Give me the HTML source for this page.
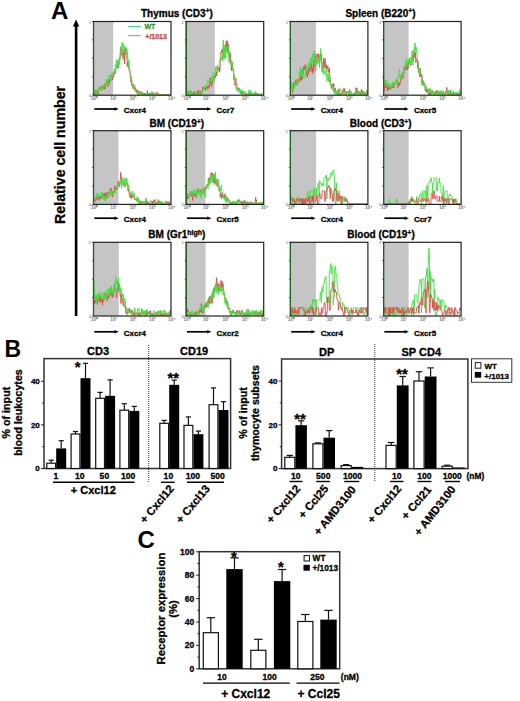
<!DOCTYPE html>
<html><head><meta charset="utf-8"><style>
html,body{margin:0;padding:0;background:#fff;width:520px;height:701px;overflow:hidden}
svg{display:block}
text{font-family:"Liberation Sans",sans-serif;font-weight:bold;stroke:currentColor;stroke-width:0.3px;stroke-linejoin:round}
</style></head><body>
<svg width="520" height="701" viewBox="0 0 520 701">
<text x="51" y="18.6" font-size="24" text-anchor="start" fill="#000" color="#000" style="stroke-width:0">A</text>
<rect x="74.8" y="25" width="2.6" height="291" fill="#000"/>
<path d="M76.1 19.5 L79.3 26.5 L72.9 26.5 Z" fill="#000"/>
<text transform="translate(64.9 154.9) rotate(-90)" font-size="14.2" text-anchor="middle">Relative cell number</text>
<text x="141" y="16.9" font-size="10">Thymus (CD3<tspan font-size="7" dy="-3.6">+</tspan><tspan dy="3.6">)</tspan></text>
<text x="345.4" y="16.9" font-size="10">Spleen (B220<tspan font-size="7" dy="-3.6">+</tspan><tspan dy="3.6">)</tspan></text>
<text x="149.5" y="127.3" font-size="10">BM (CD19<tspan font-size="7" dy="-3.6">+</tspan><tspan dy="3.6">)</tspan></text>
<text x="349.8" y="127.3" font-size="10">Blood (CD3<tspan font-size="7" dy="-3.6">+</tspan><tspan dy="3.6">)</tspan></text>
<text x="148.3" y="238.4" font-size="10">BM (Gr1<tspan font-size="7" dy="-3.6">high</tspan><tspan dy="3.6">)</tspan></text>
<text x="347.3" y="238.4" font-size="10">Blood (CD19<tspan font-size="7" dy="-3.6">+</tspan><tspan dy="3.6">)</tspan></text>
<rect x="93.5" y="21.5" width="19.7" height="73.7" fill="#c5c5c5"/>
<polyline points="94.00,92.1 94.30,93.8 94.60,91.5 94.90,94.6 95.20,94.7 95.50,90.4 95.80,89.8 96.10,89.6 96.40,92.5 96.70,94.7 97.00,94.0 97.30,91.9 97.60,91.3 97.90,91.7 98.20,94.3 98.50,91.1 98.80,89.7 99.10,88.9 99.40,89.4 99.70,89.1 100.00,87.5 100.30,87.7 100.60,87.3 100.90,88.6 101.20,86.5 101.50,87.2 101.80,90.5 102.10,85.6 102.40,88.1 102.70,86.0 103.00,88.1 103.30,88.8 103.60,87.6 103.90,87.7 104.20,87.6 104.50,89.2 104.80,83.4 105.10,88.9 105.40,85.7 105.70,84.1 106.00,84.7 106.30,84.4 106.60,83.4 106.90,81.6 107.20,84.5 107.50,79.2 107.80,87.0 108.10,84.3 108.40,85.2 108.70,85.0 109.00,83.7 109.30,79.4 109.60,83.5 109.90,81.9 110.20,77.7 110.50,77.9 110.80,76.4 111.10,76.7 111.40,77.9 111.70,78.3 112.00,77.4 112.30,78.6 112.60,80.1 112.90,75.8 113.20,76.4 113.50,77.3 113.80,77.0 114.10,71.7 114.40,72.5 114.70,71.4 115.00,74.2 115.30,72.5 115.60,70.1 115.90,68.7 116.20,67.7 116.50,68.1 116.80,65.2 117.10,64.1 117.40,68.4 117.70,66.3 118.00,67.5 118.30,66.0 118.60,67.8 118.90,63.3 119.20,60.1 119.50,59.9 119.80,59.7 120.10,55.6 120.40,50.9 120.70,51.1 121.00,47.5 121.30,50.3 121.60,55.1 121.90,47.5 122.20,53.5 122.50,54.7 122.80,52.8 123.10,59.2 123.40,57.2 123.70,55.1 124.00,49.8 124.30,53.0 124.60,64.1 124.90,53.7 125.20,51.9 125.50,48.5 125.80,51.9 126.10,47.7 126.40,52.2 126.70,53.5 127.00,57.7 127.30,66.6 127.60,62.0 127.90,63.6 128.20,67.4 128.50,65.1 128.80,67.9 129.10,70.7 129.40,70.8 129.70,71.9 130.00,72.2 130.30,76.7 130.60,75.8 130.90,81.5 131.20,80.4 131.50,85.3 131.80,84.7 132.10,84.4 132.40,86.1 132.70,87.3 133.00,87.1 133.30,84.6 133.60,88.3 133.90,84.8 134.20,89.0 134.50,88.5 134.80,88.0 135.10,90.6 135.40,88.5 135.70,88.3 136.00,91.9 136.30,89.7 136.60,90.2 136.90,92.9 137.20,91.1 137.50,92.4 137.80,90.0 138.10,94.7 138.40,91.6 138.70,94.7 139.00,91.5 139.30,93.5 139.60,94.1 139.90,93.6 140.20,92.4 140.50,92.5 140.80,91.3 141.10,94.2 141.40,94.7 141.70,94.7 142.00,94.3 142.30,92.2 142.60,92.3 142.90,93.0 143.20,93.7 143.50,94.4 143.80,94.5 144.10,93.4 144.40,94.7 144.70,93.1 145.00,94.7 145.30,94.7 145.60,94.7 145.90,93.8 146.20,94.5 146.50,94.6 146.80,94.3 147.10,94.7 147.40,90.4 147.70,94.2 148.00,94.7 148.30,94.7 148.60,94.7 148.90,94.7 149.20,94.3 149.50,92.9 149.80,94.7 150.10,93.7 150.40,94.7 150.70,93.8 151.00,93.5 151.30,93.9 151.60,94.3 151.90,94.7 152.20,92.6 152.50,93.5 152.80,92.7 153.10,92.2 153.40,94.3 153.70,94.7 154.00,94.1 154.30,94.7 154.60,94.7 154.90,94.7 155.20,94.7 155.50,94.7 155.80,94.7 156.10,93.9 156.40,91.9 156.70,92.2 157.00,94.7 157.30,94.5 157.60,93.5 157.90,92.8 158.20,93.9 158.50,94.7 158.80,94.7 159.10,94.7 159.40,94.7 159.70,94.7 160.00,94.7 160.30,93.9 160.60,94.7 160.90,94.7 161.20,94.7 161.50,94.7 161.80,94.7 162.10,94.7 162.40,94.7 162.70,94.7 163.00,94.7 163.30,94.7 163.60,94.7 163.90,94.7 164.20,94.7 164.50,94.7 164.80,94.7 165.10,94.7 165.40,94.7 165.70,94.7 166.00,94.7 166.30,94.7 166.60,94.7 166.90,94.7 167.20,94.7 167.50,94.7 167.80,94.7 168.10,94.7 168.40,94.7 168.70,94.7 169.00,94.7 169.30,94.7 169.60,94.7 169.90,94.7 170.20,94.7 170.50,94.7" fill="none" stroke="#e24a4a" stroke-width="0.9"/>
<polyline points="94.00,93.0 94.30,91.8 94.60,91.4 94.90,93.2 95.20,93.7 95.50,93.1 95.80,91.6 96.10,93.0 96.40,91.4 96.70,94.7 97.00,89.9 97.30,91.6 97.60,90.4 97.90,91.1 98.20,90.5 98.50,88.2 98.80,87.4 99.10,88.9 99.40,88.4 99.70,87.3 100.00,90.0 100.30,90.1 100.60,87.1 100.90,88.8 101.20,90.6 101.50,88.9 101.80,87.5 102.10,88.5 102.40,89.3 102.70,87.4 103.00,84.9 103.30,87.0 103.60,88.2 103.90,86.2 104.20,85.2 104.50,86.8 104.80,84.9 105.10,84.2 105.40,84.2 105.70,84.9 106.00,82.2 106.30,82.0 106.60,79.9 106.90,84.4 107.20,83.7 107.50,85.4 107.80,86.1 108.10,81.4 108.40,80.4 108.70,82.6 109.00,75.3 109.30,75.8 109.60,76.6 109.90,76.6 110.20,76.0 110.50,79.6 110.80,75.0 111.10,76.8 111.40,81.0 111.70,73.8 112.00,73.9 112.30,72.9 112.60,75.9 112.90,75.2 113.20,73.0 113.50,75.7 113.80,72.3 114.10,73.8 114.40,69.5 114.70,71.0 115.00,65.6 115.30,66.0 115.60,66.0 115.90,64.0 116.20,62.4 116.50,59.7 116.80,67.9 117.10,60.3 117.40,61.4 117.70,63.7 118.00,66.4 118.30,60.8 118.60,67.6 118.90,60.8 119.20,57.7 119.50,64.2 119.80,58.2 120.10,59.6 120.40,53.2 120.70,49.1 121.00,46.3 121.30,56.7 121.60,50.9 121.90,44.6 122.20,42.1 122.50,45.1 122.80,47.6 123.10,43.5 123.40,44.5 123.70,47.4 124.00,51.2 124.30,48.0 124.60,46.1 124.90,49.3 125.20,50.0 125.50,54.9 125.80,52.6 126.10,47.6 126.40,52.6 126.70,58.2 127.00,50.0 127.30,55.2 127.60,53.1 127.90,59.5 128.20,63.1 128.50,66.7 128.80,61.2 129.10,60.4 129.40,70.8 129.70,71.2 130.00,70.6 130.30,74.9 130.60,76.4 130.90,78.5 131.20,78.4 131.50,76.5 131.80,81.5 132.10,81.0 132.40,85.5 132.70,84.1 133.00,89.0 133.30,88.1 133.60,84.8 133.90,86.5 134.20,85.2 134.50,85.5 134.80,85.4 135.10,86.4 135.40,86.9 135.70,90.3 136.00,91.9 136.30,92.6 136.60,92.4 136.90,93.4 137.20,93.3 137.50,92.4 137.80,91.6 138.10,92.3 138.40,94.5 138.70,92.7 139.00,92.8 139.30,91.5 139.60,92.4 139.90,94.3 140.20,94.7 140.50,92.0 140.80,94.1 141.10,92.5 141.40,92.4 141.70,94.7 142.00,94.7 142.30,94.7 142.60,94.7 142.90,94.6 143.20,94.4 143.50,94.5 143.80,94.7 144.10,94.2 144.40,94.7 144.70,93.5 145.00,94.7 145.30,93.9 145.60,92.9 145.90,94.5 146.20,94.4 146.50,94.7 146.80,94.7 147.10,94.6 147.40,94.7 147.70,94.7 148.00,94.7 148.30,94.2 148.60,94.7 148.90,92.9 149.20,94.7 149.50,94.7 149.80,94.1 150.10,94.7 150.40,93.6 150.70,94.7 151.00,94.7 151.30,94.6 151.60,91.7 151.90,93.9 152.20,94.7 152.50,94.6 152.80,94.7 153.10,91.9 153.40,94.7 153.70,93.8 154.00,93.9 154.30,94.7 154.60,93.1 154.90,93.2 155.20,93.9 155.50,94.0 155.80,93.6 156.10,93.4 156.40,93.0 156.70,94.1 157.00,92.9 157.30,94.7 157.60,93.4 157.90,94.5 158.20,94.7 158.50,94.7 158.80,94.7 159.10,94.7 159.40,94.7 159.70,94.7 160.00,94.7 160.30,94.7 160.60,94.7 160.90,94.7 161.20,94.7 161.50,94.7 161.80,94.7 162.10,94.7 162.40,94.7 162.70,94.7 163.00,94.7 163.30,94.7 163.60,94.7 163.90,94.7 164.20,94.7 164.50,94.7 164.80,94.7 165.10,94.7 165.40,94.7 165.70,94.7 166.00,94.7 166.30,94.7 166.60,94.7 166.90,94.7 167.20,94.7 167.50,94.7 167.80,94.7 168.10,94.7 168.40,94.7 168.70,94.7 169.00,94.7 169.30,94.7 169.60,94.7 169.90,94.7 170.20,94.7 170.50,94.7" fill="none" stroke="#3fe23f" stroke-width="0.9"/>
<rect x="93.5" y="21.5" width="77.5" height="73.7" fill="none" stroke="#222" stroke-width="1.2"/>
<line x1="93.5" y1="22.5" x2="93.5" y2="95.2" stroke="#1a6a1a" stroke-width="1.1"/>
<line x1="92.0" y1="21.5" x2="93.5" y2="21.5" stroke="#333" stroke-width="0.8"/>
<line x1="92.0" y1="39.9" x2="93.5" y2="39.9" stroke="#333" stroke-width="0.8"/>
<line x1="92.0" y1="58.4" x2="93.5" y2="58.4" stroke="#333" stroke-width="0.8"/>
<line x1="92.0" y1="76.8" x2="93.5" y2="76.8" stroke="#333" stroke-width="0.8"/>
<line x1="92.0" y1="95.2" x2="93.5" y2="95.2" stroke="#333" stroke-width="0.8"/>
<text x="91.0" y="23.5" font-size="3.5" text-anchor="end" fill="#888" color="#888" style="stroke-width:0">&#8364;</text>
<text x="91.0" y="96.7" font-size="3.5" text-anchor="end" fill="#888" color="#888" style="stroke-width:0">0</text>
<text x="94.3" y="100.10000000000001" font-size="4.6" text-anchor="middle" fill="#8a8a8a" color="#8a8a8a" style="stroke-width:0.1">10&#8304;</text>
<text x="113.675" y="100.10000000000001" font-size="4.6" text-anchor="middle" fill="#8a8a8a" color="#8a8a8a" style="stroke-width:0.1">10&#185;</text>
<text x="133.05" y="100.10000000000001" font-size="4.6" text-anchor="middle" fill="#8a8a8a" color="#8a8a8a" style="stroke-width:0.1">10&#178;</text>
<text x="152.425" y="100.10000000000001" font-size="4.6" text-anchor="middle" fill="#8a8a8a" color="#8a8a8a" style="stroke-width:0.1">10&#179;</text>
<text x="171.8" y="100.10000000000001" font-size="4.6" text-anchor="middle" fill="#8a8a8a" color="#8a8a8a" style="stroke-width:0.1">10&#8308;</text>
<line x1="94.3" y1="109.0" x2="115.5" y2="109.0" stroke="#000" stroke-width="1.7"/>
<path d="M118.7 109.0 L114.5 107.2 L114.5 110.8 Z" fill="#000"/>
<text x="123.8" y="112.7" font-size="8" text-anchor="start" fill="#000" color="#000" >Cxcr4</text>
<rect x="186.2" y="21.5" width="28.6" height="73.7" fill="#c5c5c5"/>
<polyline points="186.70,91.3 187.00,93.1 187.30,91.9 187.60,92.1 187.90,91.8 188.20,91.6 188.50,92.7 188.80,93.3 189.10,90.8 189.40,92.7 189.70,94.7 190.00,94.7 190.30,94.6 190.60,93.8 190.90,93.4 191.20,90.8 191.50,94.1 191.80,93.6 192.10,94.7 192.40,94.7 192.70,94.7 193.00,94.7 193.30,93.2 193.60,94.2 193.90,91.6 194.20,93.6 194.50,92.5 194.80,92.3 195.10,94.7 195.40,94.7 195.70,92.5 196.00,94.2 196.30,94.7 196.60,94.7 196.90,94.7 197.20,94.7 197.50,91.5 197.80,94.2 198.10,90.3 198.40,93.8 198.70,94.7 199.00,92.5 199.30,92.3 199.60,92.3 199.90,91.2 200.20,91.9 200.50,91.4 200.80,94.7 201.10,93.1 201.40,91.1 201.70,91.1 202.00,90.3 202.30,91.9 202.60,89.2 202.90,86.7 203.20,88.8 203.50,88.1 203.80,87.9 204.10,87.5 204.40,88.3 204.70,89.1 205.00,88.2 205.30,88.1 205.60,90.6 205.90,88.5 206.20,88.0 206.50,87.0 206.80,88.1 207.10,87.4 207.40,86.8 207.70,89.3 208.00,86.2 208.30,85.2 208.60,86.3 208.90,88.3 209.20,86.8 209.50,83.6 209.80,85.0 210.10,77.7 210.40,83.3 210.70,83.1 211.00,81.1 211.30,83.5 211.60,87.1 211.90,81.5 212.20,84.0 212.50,82.9 212.80,82.4 213.10,79.8 213.40,77.7 213.70,77.0 214.00,80.0 214.30,78.0 214.60,76.9 214.90,76.1 215.20,75.7 215.50,77.6 215.80,72.6 216.10,74.5 216.40,72.0 216.70,76.0 217.00,71.7 217.30,72.8 217.60,71.6 217.90,70.7 218.20,70.4 218.50,70.2 218.80,67.9 219.10,70.9 219.40,67.1 219.70,71.9 220.00,68.9 220.30,61.5 220.60,58.1 220.90,52.2 221.20,52.8 221.50,50.3 221.80,52.9 222.10,52.2 222.40,48.8 222.70,52.1 223.00,54.0 223.30,56.6 223.60,57.5 223.90,57.2 224.20,55.7 224.50,48.3 224.80,52.3 225.10,50.4 225.40,44.8 225.70,49.0 226.00,42.9 226.30,40.8 226.60,48.6 226.90,49.1 227.20,52.7 227.50,40.7 227.80,47.3 228.10,52.5 228.40,44.2 228.70,53.6 229.00,52.6 229.30,54.4 229.60,56.8 229.90,62.2 230.20,52.6 230.50,63.5 230.80,63.2 231.10,65.5 231.40,70.6 231.70,66.6 232.00,64.2 232.30,63.8 232.60,69.2 232.90,68.4 233.20,70.8 233.50,69.6 233.80,79.4 234.10,74.9 234.40,79.5 234.70,80.3 235.00,85.5 235.30,82.5 235.60,80.7 235.90,78.4 236.20,83.9 236.50,84.8 236.80,83.9 237.10,86.7 237.40,88.7 237.70,88.8 238.00,89.7 238.30,89.3 238.60,89.1 238.90,87.8 239.20,88.0 239.50,89.4 239.80,90.7 240.10,90.4 240.40,93.4 240.70,89.8 241.00,92.1 241.30,91.3 241.60,94.7 241.90,92.0 242.20,92.1 242.50,92.9 242.80,93.6 243.10,94.1 243.40,91.0 243.70,91.6 244.00,93.0 244.30,93.4 244.60,94.7 244.90,94.7 245.20,94.7 245.50,94.4 245.80,94.2 246.10,94.7 246.40,93.6 246.70,93.6 247.00,94.2 247.30,94.7 247.60,94.7 247.90,94.1 248.20,94.7 248.50,94.7 248.80,91.9 249.10,93.9 249.40,94.7 249.70,92.1 250.00,93.4 250.30,94.4 250.60,94.7 250.90,94.2 251.20,93.4 251.50,94.7 251.80,94.7 252.10,94.7 252.40,94.7 252.70,94.7 253.00,94.7 253.30,94.7 253.60,94.7 253.90,94.7 254.20,94.7 254.50,94.3 254.80,94.4 255.10,93.3 255.40,94.0 255.70,91.7 256.00,94.7 256.30,93.6 256.60,94.7 256.90,94.7 257.20,94.7 257.50,94.7 257.80,93.3 258.10,93.6 258.40,94.7 258.70,94.7 259.00,94.7 259.30,94.7 259.60,94.7 259.90,94.7 260.20,94.7 260.50,94.7 260.80,94.7 261.10,94.7 261.40,94.7 261.70,94.7 262.00,94.7 262.30,94.7 262.60,94.7 262.90,94.7 263.20,94.7" fill="none" stroke="#e24a4a" stroke-width="0.9"/>
<polyline points="186.70,93.5 187.00,94.7 187.30,94.7 187.60,92.7 187.90,94.7 188.20,94.3 188.50,93.2 188.80,94.2 189.10,90.1 189.40,94.7 189.70,94.7 190.00,93.6 190.30,91.9 190.60,93.4 190.90,94.0 191.20,90.8 191.50,94.0 191.80,93.7 192.10,92.1 192.40,94.7 192.70,94.7 193.00,94.0 193.30,94.7 193.60,94.7 193.90,94.7 194.20,94.7 194.50,94.7 194.80,94.7 195.10,92.3 195.40,93.9 195.70,93.1 196.00,94.7 196.30,92.8 196.60,92.8 196.90,94.7 197.20,93.8 197.50,94.7 197.80,94.4 198.10,94.7 198.40,92.9 198.70,93.2 199.00,93.2 199.30,94.7 199.60,94.7 199.90,92.4 200.20,94.7 200.50,93.9 200.80,93.8 201.10,94.5 201.40,90.6 201.70,94.7 202.00,91.2 202.30,90.6 202.60,92.8 202.90,89.6 203.20,89.7 203.50,89.4 203.80,90.4 204.10,88.5 204.40,88.0 204.70,89.0 205.00,86.2 205.30,87.2 205.60,86.7 205.90,85.5 206.20,87.3 206.50,85.6 206.80,83.5 207.10,83.6 207.40,79.5 207.70,79.8 208.00,80.5 208.30,81.1 208.60,82.4 208.90,81.4 209.20,80.4 209.50,79.0 209.80,80.9 210.10,80.4 210.40,79.2 210.70,79.5 211.00,79.0 211.30,82.6 211.60,76.7 211.90,78.2 212.20,77.9 212.50,76.2 212.80,82.2 213.10,72.2 213.40,78.8 213.70,78.1 214.00,81.9 214.30,74.6 214.60,74.1 214.90,75.2 215.20,72.4 215.50,66.7 215.80,70.8 216.10,72.5 216.40,67.0 216.70,69.8 217.00,69.3 217.30,65.2 217.60,70.8 217.90,70.3 218.20,68.6 218.50,68.6 218.80,66.5 219.10,65.3 219.40,64.4 219.70,63.4 220.00,59.9 220.30,57.4 220.60,57.3 220.90,57.1 221.20,59.4 221.50,57.7 221.80,59.4 222.10,57.4 222.40,52.7 222.70,60.9 223.00,50.2 223.30,40.0 223.60,56.7 223.90,44.5 224.20,59.3 224.50,53.3 224.80,47.7 225.10,48.4 225.40,55.7 225.70,58.1 226.00,58.0 226.30,45.9 226.60,48.8 226.90,49.5 227.20,47.2 227.50,47.4 227.80,46.6 228.10,47.1 228.40,56.5 228.70,46.2 229.00,61.9 229.30,52.2 229.60,60.3 229.90,60.0 230.20,63.4 230.50,62.5 230.80,63.2 231.10,63.4 231.40,65.2 231.70,60.3 232.00,65.3 232.30,62.0 232.60,68.3 232.90,70.7 233.20,70.2 233.50,71.1 233.80,78.2 234.10,76.8 234.40,75.0 234.70,80.8 235.00,81.5 235.30,81.1 235.60,85.3 235.90,88.6 236.20,89.9 236.50,87.2 236.80,87.5 237.10,88.7 237.40,89.3 237.70,91.9 238.00,88.2 238.30,87.7 238.60,90.7 238.90,88.6 239.20,91.0 239.50,89.7 239.80,90.0 240.10,93.5 240.40,89.5 240.70,92.7 241.00,91.8 241.30,92.3 241.60,91.6 241.90,91.4 242.20,91.6 242.50,90.2 242.80,92.2 243.10,92.9 243.40,94.7 243.70,93.1 244.00,93.6 244.30,94.7 244.60,94.4 244.90,92.5 245.20,92.0 245.50,91.3 245.80,92.9 246.10,94.7 246.40,94.2 246.70,94.7 247.00,93.4 247.30,94.0 247.60,94.7 247.90,94.3 248.20,93.8 248.50,94.7 248.80,92.0 249.10,89.7 249.40,92.8 249.70,92.4 250.00,93.3 250.30,94.3 250.60,90.3 250.90,93.4 251.20,92.9 251.50,93.5 251.80,92.3 252.10,93.4 252.40,92.8 252.70,94.7 253.00,94.7 253.30,93.5 253.60,94.7 253.90,94.7 254.20,93.6 254.50,94.5 254.80,92.7 255.10,94.7 255.40,93.0 255.70,94.7 256.00,94.7 256.30,92.8 256.60,94.7 256.90,94.7 257.20,94.7 257.50,93.4 257.80,94.7 258.10,94.7 258.40,94.7 258.70,94.7 259.00,94.7 259.30,94.7 259.60,94.7 259.90,94.7 260.20,94.7 260.50,94.7 260.80,94.7 261.10,93.9 261.40,93.0 261.70,94.7 262.00,94.7 262.30,94.7 262.60,94.7 262.90,94.7 263.20,94.7" fill="none" stroke="#3fe23f" stroke-width="0.9"/>
<rect x="186.2" y="21.5" width="77.5" height="73.7" fill="none" stroke="#222" stroke-width="1.2"/>
<line x1="186.2" y1="22.5" x2="186.2" y2="95.2" stroke="#1a6a1a" stroke-width="1.1"/>
<line x1="184.7" y1="21.5" x2="186.2" y2="21.5" stroke="#333" stroke-width="0.8"/>
<line x1="184.7" y1="39.9" x2="186.2" y2="39.9" stroke="#333" stroke-width="0.8"/>
<line x1="184.7" y1="58.4" x2="186.2" y2="58.4" stroke="#333" stroke-width="0.8"/>
<line x1="184.7" y1="76.8" x2="186.2" y2="76.8" stroke="#333" stroke-width="0.8"/>
<line x1="184.7" y1="95.2" x2="186.2" y2="95.2" stroke="#333" stroke-width="0.8"/>
<text x="183.7" y="23.5" font-size="3.5" text-anchor="end" fill="#888" color="#888" style="stroke-width:0">&#8364;</text>
<text x="183.7" y="96.7" font-size="3.5" text-anchor="end" fill="#888" color="#888" style="stroke-width:0">0</text>
<text x="187.0" y="100.10000000000001" font-size="4.6" text-anchor="middle" fill="#8a8a8a" color="#8a8a8a" style="stroke-width:0.1">10&#8304;</text>
<text x="206.375" y="100.10000000000001" font-size="4.6" text-anchor="middle" fill="#8a8a8a" color="#8a8a8a" style="stroke-width:0.1">10&#185;</text>
<text x="225.75" y="100.10000000000001" font-size="4.6" text-anchor="middle" fill="#8a8a8a" color="#8a8a8a" style="stroke-width:0.1">10&#178;</text>
<text x="245.125" y="100.10000000000001" font-size="4.6" text-anchor="middle" fill="#8a8a8a" color="#8a8a8a" style="stroke-width:0.1">10&#179;</text>
<text x="264.5" y="100.10000000000001" font-size="4.6" text-anchor="middle" fill="#8a8a8a" color="#8a8a8a" style="stroke-width:0.1">10&#8308;</text>
<line x1="187.0" y1="109.0" x2="208.2" y2="109.0" stroke="#000" stroke-width="1.7"/>
<path d="M211.39999999999998 109.0 L207.2 107.2 L207.2 110.8 Z" fill="#000"/>
<text x="216.5" y="112.7" font-size="8" text-anchor="start" fill="#000" color="#000" >Ccr7</text>
<rect x="290.4" y="21.5" width="25.5" height="73.7" fill="#c5c5c5"/>
<polyline points="290.90,81.3 291.20,88.5 291.50,88.4 291.80,89.1 292.10,86.9 292.40,90.8 292.70,92.6 293.00,89.4 293.30,86.3 293.60,82.2 293.90,86.8 294.20,87.5 294.50,84.8 294.80,84.1 295.10,83.8 295.40,81.4 295.70,80.3 296.00,82.5 296.30,79.3 296.60,80.8 296.90,83.0 297.20,85.3 297.50,81.8 297.80,81.3 298.10,79.9 298.40,82.6 298.70,79.4 299.00,81.1 299.30,78.1 299.60,78.3 299.90,75.7 300.20,80.1 300.50,81.4 300.80,77.8 301.10,74.1 301.40,78.3 301.70,68.8 302.00,80.0 302.30,71.3 302.60,71.5 302.90,70.6 303.20,74.4 303.50,66.6 303.80,67.4 304.10,67.4 304.40,69.9 304.70,69.3 305.00,64.7 305.30,69.0 305.60,70.7 305.90,71.8 306.20,67.3 306.50,75.0 306.80,71.3 307.10,72.8 307.40,77.3 307.70,71.1 308.00,69.1 308.30,71.7 308.60,74.4 308.90,71.1 309.20,66.1 309.50,71.9 309.80,70.1 310.10,66.7 310.40,68.9 310.70,69.4 311.00,63.8 311.30,63.2 311.60,67.6 311.90,72.1 312.20,70.5 312.50,68.0 312.80,73.3 313.10,66.5 313.40,59.7 313.70,71.2 314.00,62.2 314.30,62.3 314.60,66.7 314.90,63.7 315.20,62.9 315.50,62.0 315.80,53.6 316.10,61.5 316.40,62.9 316.70,61.7 317.00,60.5 317.30,54.9 317.60,53.9 317.90,54.9 318.20,57.8 318.50,53.8 318.80,57.1 319.10,56.0 319.40,59.8 319.70,58.2 320.00,59.8 320.30,56.4 320.60,55.4 320.90,60.5 321.20,59.5 321.50,54.2 321.80,64.9 322.10,71.4 322.40,71.0 322.70,65.3 323.00,62.3 323.30,65.0 323.60,57.8 323.90,61.1 324.20,68.4 324.50,61.1 324.80,66.1 325.10,58.2 325.40,68.0 325.70,68.3 326.00,68.4 326.30,66.0 326.60,64.8 326.90,68.7 327.20,66.2 327.50,68.1 327.80,66.1 328.10,71.6 328.40,69.8 328.70,70.3 329.00,72.8 329.30,67.8 329.60,72.9 329.90,76.3 330.20,79.0 330.50,80.9 330.80,83.8 331.10,85.2 331.40,88.5 331.70,86.5 332.00,88.0 332.30,83.9 332.60,86.5 332.90,84.6 333.20,83.4 333.50,86.5 333.80,83.9 334.10,87.9 334.40,89.0 334.70,91.9 335.00,90.4 335.30,88.3 335.60,91.1 335.90,93.4 336.20,93.6 336.50,94.2 336.80,94.2 337.10,94.7 337.40,90.5 337.70,90.7 338.00,92.0 338.30,94.3 338.60,92.2 338.90,88.6 339.20,94.5 339.50,93.6 339.80,94.0 340.10,93.2 340.40,94.7 340.70,93.8 341.00,94.7 341.30,94.7 341.60,94.7 341.90,93.0 342.20,93.0 342.50,93.4 342.80,90.2 343.10,92.1 343.40,88.6 343.70,91.7 344.00,91.8 344.30,92.5 344.60,88.5 344.90,91.2 345.20,92.3 345.50,92.1 345.80,93.9 346.10,92.5 346.40,94.4 346.70,93.6 347.00,92.3 347.30,91.1 347.60,92.3 347.90,91.9 348.20,92.0 348.50,94.7 348.80,93.3 349.10,92.4 349.40,91.7 349.70,89.4 350.00,91.4 350.30,94.7 350.60,92.7 350.90,93.5 351.20,93.5 351.50,94.1 351.80,94.7 352.10,94.7 352.40,94.7 352.70,94.7 353.00,94.7 353.30,94.7 353.60,94.2 353.90,94.7 354.20,94.7 354.50,94.7 354.80,94.7 355.10,92.8 355.40,94.7 355.70,94.7 356.00,87.8 356.30,91.1 356.60,92.8 356.90,87.8 357.20,93.6 357.50,93.0 357.80,93.4 358.10,92.0 358.40,93.0 358.70,91.3 359.00,93.4 359.30,91.4 359.60,93.2 359.90,94.7 360.20,93.2 360.50,94.7 360.80,92.9 361.10,93.0 361.40,89.0 361.70,93.3 362.00,94.7 362.30,93.6 362.60,94.7 362.90,90.8 363.20,92.5 363.50,91.0 363.80,93.4 364.10,94.5 364.40,92.4 364.70,94.7 365.00,94.4 365.30,93.5 365.60,92.8 365.90,94.7 366.20,94.7 366.50,90.1 366.80,94.1 367.10,93.2 367.40,92.4" fill="none" stroke="#e24a4a" stroke-width="0.9"/>
<polyline points="290.90,89.2 291.20,82.4 291.50,89.6 291.80,84.7 292.10,88.8 292.40,89.6 292.70,84.5 293.00,86.8 293.30,87.3 293.60,86.2 293.90,86.3 294.20,86.1 294.50,89.1 294.80,85.1 295.10,85.4 295.40,84.8 295.70,85.7 296.00,84.0 296.30,85.9 296.60,81.7 296.90,83.7 297.20,79.3 297.50,84.4 297.80,82.7 298.10,82.7 298.40,80.4 298.70,80.5 299.00,79.9 299.30,72.2 299.60,76.7 299.90,75.5 300.20,67.2 300.50,76.7 300.80,71.8 301.10,72.1 301.40,77.0 301.70,74.2 302.00,69.0 302.30,76.0 302.60,72.8 302.90,69.7 303.20,75.1 303.50,73.8 303.80,77.4 304.10,77.4 304.40,78.6 304.70,78.7 305.00,74.8 305.30,75.5 305.60,68.3 305.90,72.7 306.20,72.4 306.50,65.4 306.80,70.9 307.10,73.5 307.40,68.8 307.70,72.1 308.00,65.2 308.30,63.7 308.60,64.3 308.90,66.9 309.20,66.1 309.50,63.8 309.80,61.4 310.10,67.6 310.40,65.0 310.70,58.4 311.00,61.9 311.30,58.9 311.60,57.1 311.90,62.2 312.20,57.8 312.50,54.2 312.80,58.3 313.10,56.5 313.40,57.1 313.70,57.9 314.00,50.6 314.30,64.1 314.60,62.0 314.90,57.1 315.20,65.9 315.50,62.5 315.80,71.1 316.10,62.2 316.40,62.5 316.70,62.7 317.00,64.6 317.30,62.1 317.60,63.5 317.90,58.2 318.20,60.9 318.50,57.4 318.80,63.0 319.10,59.0 319.40,67.7 319.70,59.0 320.00,54.1 320.30,59.3 320.60,48.5 320.90,61.9 321.20,61.5 321.50,65.3 321.80,65.1 322.10,68.8 322.40,72.6 322.70,72.4 323.00,62.5 323.30,70.8 323.60,67.1 323.90,74.6 324.20,71.4 324.50,70.7 324.80,72.5 325.10,73.9 325.40,73.9 325.70,72.6 326.00,69.2 326.30,68.3 326.60,75.4 326.90,80.8 327.20,77.9 327.50,76.5 327.80,73.6 328.10,75.2 328.40,81.1 328.70,74.3 329.00,78.1 329.30,82.4 329.60,77.0 329.90,81.8 330.20,82.1 330.50,85.6 330.80,84.8 331.10,84.9 331.40,86.2 331.70,85.4 332.00,84.4 332.30,85.4 332.60,86.6 332.90,90.2 333.20,87.6 333.50,91.4 333.80,90.4 334.10,92.9 334.40,94.5 334.70,94.7 335.00,90.6 335.30,92.1 335.60,91.4 335.90,90.2 336.20,94.6 336.50,94.7 336.80,91.9 337.10,92.5 337.40,93.6 337.70,92.8 338.00,94.7 338.30,92.5 338.60,92.9 338.90,90.9 339.20,89.0 339.50,91.6 339.80,90.4 340.10,90.7 340.40,89.4 340.70,88.6 341.00,90.6 341.30,91.5 341.60,91.6 341.90,94.0 342.20,93.6 342.50,93.4 342.80,92.6 343.10,92.4 343.40,90.0 343.70,94.6 344.00,93.5 344.30,94.7 344.60,94.4 344.90,94.7 345.20,91.0 345.50,92.5 345.80,94.7 346.10,93.3 346.40,91.8 346.70,90.9 347.00,92.5 347.30,93.0 347.60,92.9 347.90,91.8 348.20,91.9 348.50,93.9 348.80,94.7 349.10,91.2 349.40,94.2 349.70,94.2 350.00,92.2 350.30,93.4 350.60,91.0 350.90,94.6 351.20,91.2 351.50,94.7 351.80,94.7 352.10,94.7 352.40,94.1 352.70,94.7 353.00,94.7 353.30,92.3 353.60,94.7 353.90,94.5 354.20,94.1 354.50,94.1 354.80,92.7 355.10,92.3 355.40,92.9 355.70,91.8 356.00,94.3 356.30,94.7 356.60,92.6 356.90,94.4 357.20,92.2 357.50,93.5 357.80,92.1 358.10,90.6 358.40,91.0 358.70,94.7 359.00,93.5 359.30,92.3 359.60,91.3 359.90,93.6 360.20,94.1 360.50,91.4 360.80,91.5 361.10,94.7 361.40,94.7 361.70,94.3 362.00,94.7 362.30,94.7 362.60,93.7 362.90,94.7 363.20,93.6 363.50,94.7 363.80,93.7 364.10,94.2 364.40,92.0 364.70,94.1 365.00,93.1 365.30,94.7 365.60,94.7 365.90,92.6 366.20,94.7 366.50,94.5 366.80,90.9 367.10,93.0 367.40,94.7" fill="none" stroke="#3fe23f" stroke-width="0.9"/>
<rect x="290.4" y="21.5" width="77.5" height="73.7" fill="none" stroke="#222" stroke-width="1.2"/>
<line x1="290.4" y1="22.5" x2="290.4" y2="95.2" stroke="#1a6a1a" stroke-width="1.1"/>
<line x1="288.9" y1="21.5" x2="290.4" y2="21.5" stroke="#333" stroke-width="0.8"/>
<line x1="288.9" y1="39.9" x2="290.4" y2="39.9" stroke="#333" stroke-width="0.8"/>
<line x1="288.9" y1="58.4" x2="290.4" y2="58.4" stroke="#333" stroke-width="0.8"/>
<line x1="288.9" y1="76.8" x2="290.4" y2="76.8" stroke="#333" stroke-width="0.8"/>
<line x1="288.9" y1="95.2" x2="290.4" y2="95.2" stroke="#333" stroke-width="0.8"/>
<text x="287.9" y="23.5" font-size="3.5" text-anchor="end" fill="#888" color="#888" style="stroke-width:0">&#8364;</text>
<text x="287.9" y="96.7" font-size="3.5" text-anchor="end" fill="#888" color="#888" style="stroke-width:0">0</text>
<text x="291.2" y="100.10000000000001" font-size="4.6" text-anchor="middle" fill="#8a8a8a" color="#8a8a8a" style="stroke-width:0.1">10&#8304;</text>
<text x="310.575" y="100.10000000000001" font-size="4.6" text-anchor="middle" fill="#8a8a8a" color="#8a8a8a" style="stroke-width:0.1">10&#185;</text>
<text x="329.95" y="100.10000000000001" font-size="4.6" text-anchor="middle" fill="#8a8a8a" color="#8a8a8a" style="stroke-width:0.1">10&#178;</text>
<text x="349.325" y="100.10000000000001" font-size="4.6" text-anchor="middle" fill="#8a8a8a" color="#8a8a8a" style="stroke-width:0.1">10&#179;</text>
<text x="368.7" y="100.10000000000001" font-size="4.6" text-anchor="middle" fill="#8a8a8a" color="#8a8a8a" style="stroke-width:0.1">10&#8308;</text>
<line x1="291.2" y1="109.0" x2="312.4" y2="109.0" stroke="#000" stroke-width="1.7"/>
<path d="M315.59999999999997 109.0 L311.4 107.2 L311.4 110.8 Z" fill="#000"/>
<text x="320.7" y="112.7" font-size="8" text-anchor="start" fill="#000" color="#000" >Cxcr4</text>
<rect x="383.6" y="21.5" width="25.0" height="73.7" fill="#c5c5c5"/>
<polyline points="384.10,91.1 384.40,87.7 384.70,85.5 385.00,86.5 385.30,87.1 385.60,87.9 385.90,85.8 386.20,83.0 386.50,85.1 386.80,85.1 387.10,85.4 387.40,91.3 387.70,85.4 388.00,86.9 388.30,87.6 388.60,90.1 388.90,88.6 389.20,86.5 389.50,87.2 389.80,87.9 390.10,89.5 390.40,87.6 390.70,86.1 391.00,88.5 391.30,85.8 391.60,86.6 391.90,86.3 392.20,87.9 392.50,85.8 392.80,86.0 393.10,83.2 393.40,82.6 393.70,86.7 394.00,88.0 394.30,85.3 394.60,83.9 394.90,84.6 395.20,83.1 395.50,83.3 395.80,82.6 396.10,81.7 396.40,81.3 396.70,82.1 397.00,84.0 397.30,81.6 397.60,87.6 397.90,86.0 398.20,87.4 398.50,82.9 398.80,82.3 399.10,85.8 399.40,83.3 399.70,83.4 400.00,84.3 400.30,82.3 400.60,79.7 400.90,78.1 401.20,79.7 401.50,77.4 401.80,74.9 402.10,73.7 402.40,75.5 402.70,76.9 403.00,78.6 403.30,73.8 403.60,74.2 403.90,73.5 404.20,71.3 404.50,70.3 404.80,68.7 405.10,65.9 405.40,70.1 405.70,62.8 406.00,63.2 406.30,69.6 406.60,67.4 406.90,64.1 407.20,69.9 407.50,68.9 407.80,66.5 408.10,68.5 408.40,63.7 408.70,64.3 409.00,62.5 409.30,63.1 409.60,63.1 409.90,59.8 410.20,63.5 410.50,63.9 410.80,65.8 411.10,64.0 411.40,60.2 411.70,58.4 412.00,57.3 412.30,58.2 412.60,54.8 412.90,56.9 413.20,61.5 413.50,55.4 413.80,55.0 414.10,57.2 414.40,52.4 414.70,56.5 415.00,58.4 415.30,52.0 415.60,52.8 415.90,62.7 416.20,59.2 416.50,58.9 416.80,59.4 417.10,59.3 417.40,59.8 417.70,68.3 418.00,63.5 418.30,71.8 418.60,70.0 418.90,72.7 419.20,70.2 419.50,76.7 419.80,72.5 420.10,76.7 420.40,68.4 420.70,75.4 421.00,74.1 421.30,76.7 421.60,77.1 421.90,75.0 422.20,79.2 422.50,83.4 422.80,83.3 423.10,83.2 423.40,80.7 423.70,85.6 424.00,85.2 424.30,84.4 424.60,83.2 424.90,86.1 425.20,90.5 425.50,91.1 425.80,86.3 426.10,89.3 426.40,92.5 426.70,89.8 427.00,90.5 427.30,91.1 427.60,89.1 427.90,90.0 428.20,89.0 428.50,94.6 428.80,91.4 429.10,92.7 429.40,94.5 429.70,93.0 430.00,94.7 430.30,94.7 430.60,92.0 430.90,94.2 431.20,92.9 431.50,91.7 431.80,94.2 432.10,90.2 432.40,91.7 432.70,91.9 433.00,91.6 433.30,91.7 433.60,92.7 433.90,93.7 434.20,93.5 434.50,92.5 434.80,94.7 435.10,91.7 435.40,94.7 435.70,91.5 436.00,92.7 436.30,90.9 436.60,93.0 436.90,90.5 437.20,92.3 437.50,92.2 437.80,92.7 438.10,94.7 438.40,94.7 438.70,94.7 439.00,93.3 439.30,94.1 439.60,92.5 439.90,92.9 440.20,91.4 440.50,94.1 440.80,93.0 441.10,94.7 441.40,94.7 441.70,94.7 442.00,93.2 442.30,94.6 442.60,94.3 442.90,94.7 443.20,94.7 443.50,91.1 443.80,94.7 444.10,94.7 444.40,94.7 444.70,94.7 445.00,94.7 445.30,91.8 445.60,93.6 445.90,91.8 446.20,93.1 446.50,92.9 446.80,87.4 447.10,93.4 447.40,94.7 447.70,94.7 448.00,94.7 448.30,92.3 448.60,93.3 448.90,94.7 449.20,90.5 449.50,93.4 449.80,94.4 450.10,90.9 450.40,91.2 450.70,94.2 451.00,94.7 451.30,94.5 451.60,94.7 451.90,92.9 452.20,93.5 452.50,94.7 452.80,94.7 453.10,94.0 453.40,91.4 453.70,94.4 454.00,93.7 454.30,94.7 454.60,94.4 454.90,94.7 455.20,94.3 455.50,94.7 455.80,94.7 456.10,92.1 456.40,93.2 456.70,94.7 457.00,93.1 457.30,94.7 457.60,93.5 457.90,94.7 458.20,94.7 458.50,94.7 458.80,94.7 459.10,94.7 459.40,92.1 459.70,94.7 460.00,94.7 460.30,94.7 460.60,93.0" fill="none" stroke="#e24a4a" stroke-width="0.9"/>
<polyline points="384.10,87.3 384.40,80.1 384.70,79.2 385.00,80.7 385.30,85.1 385.60,80.3 385.90,82.4 386.20,81.9 386.50,81.8 386.80,80.0 387.10,83.8 387.40,83.9 387.70,85.7 388.00,83.8 388.30,86.1 388.60,84.5 388.90,83.1 389.20,85.0 389.50,85.4 389.80,85.5 390.10,84.8 390.40,84.0 390.70,89.0 391.00,89.2 391.30,86.2 391.60,85.7 391.90,84.0 392.20,84.5 392.50,82.3 392.80,84.1 393.10,85.9 393.40,83.8 393.70,87.0 394.00,86.7 394.30,84.4 394.60,85.0 394.90,82.5 395.20,85.3 395.50,79.5 395.80,83.5 396.10,79.3 396.40,82.1 396.70,79.2 397.00,83.3 397.30,80.2 397.60,87.4 397.90,82.5 398.20,76.4 398.50,77.7 398.80,76.3 399.10,74.0 399.40,69.3 399.70,76.7 400.00,75.1 400.30,77.6 400.60,76.1 400.90,78.7 401.20,80.0 401.50,80.6 401.80,75.1 402.10,74.2 402.40,71.9 402.70,75.3 403.00,74.3 403.30,71.7 403.60,66.0 403.90,66.8 404.20,68.2 404.50,68.8 404.80,66.6 405.10,66.6 405.40,62.8 405.70,61.6 406.00,64.8 406.30,68.6 406.60,58.4 406.90,62.7 407.20,63.4 407.50,63.5 407.80,61.6 408.10,62.1 408.40,58.9 408.70,63.0 409.00,60.7 409.30,58.4 409.60,58.5 409.90,57.9 410.20,57.3 410.50,63.8 410.80,60.4 411.10,60.9 411.40,58.5 411.70,58.4 412.00,51.2 412.30,59.2 412.60,59.0 412.90,65.0 413.20,49.9 413.50,53.7 413.80,52.0 414.10,53.3 414.40,46.3 414.70,50.4 415.00,42.8 415.30,50.0 415.60,49.3 415.90,52.8 416.20,47.1 416.50,49.5 416.80,49.3 417.10,56.1 417.40,59.0 417.70,63.1 418.00,60.4 418.30,64.3 418.60,66.5 418.90,72.4 419.20,67.8 419.50,69.5 419.80,74.0 420.10,69.4 420.40,69.9 420.70,72.6 421.00,75.8 421.30,76.0 421.60,84.1 421.90,77.3 422.20,85.3 422.50,82.3 422.80,82.7 423.10,81.8 423.40,81.8 423.70,81.7 424.00,86.2 424.30,86.1 424.60,86.0 424.90,84.3 425.20,85.6 425.50,88.6 425.80,86.1 426.10,89.3 426.40,88.2 426.70,89.9 427.00,91.2 427.30,90.0 427.60,92.0 427.90,93.1 428.20,92.0 428.50,92.5 428.80,93.1 429.10,89.3 429.40,88.6 429.70,92.3 430.00,88.6 430.30,88.5 430.60,92.8 430.90,90.1 431.20,91.7 431.50,90.5 431.80,94.7 432.10,90.4 432.40,92.2 432.70,91.4 433.00,91.2 433.30,94.7 433.60,93.6 433.90,94.4 434.20,93.6 434.50,92.1 434.80,93.2 435.10,94.7 435.40,93.4 435.70,94.7 436.00,92.7 436.30,94.1 436.60,94.1 436.90,93.2 437.20,94.4 437.50,92.4 437.80,92.8 438.10,91.1 438.40,90.5 438.70,94.7 439.00,94.7 439.30,93.3 439.60,94.2 439.90,94.7 440.20,90.5 440.50,94.1 440.80,94.2 441.10,93.6 441.40,92.2 441.70,90.8 442.00,92.4 442.30,94.2 442.60,93.3 442.90,90.8 443.20,94.7 443.50,94.3 443.80,92.9 444.10,93.5 444.40,93.7 444.70,94.6 445.00,93.2 445.30,93.2 445.60,93.1 445.90,91.9 446.20,92.8 446.50,92.3 446.80,93.6 447.10,91.9 447.40,93.2 447.70,89.9 448.00,90.0 448.30,91.1 448.60,93.0 448.90,91.2 449.20,94.7 449.50,91.8 449.80,91.1 450.10,92.8 450.40,92.6 450.70,91.5 451.00,89.6 451.30,92.7 451.60,94.6 451.90,94.7 452.20,93.7 452.50,92.4 452.80,92.9 453.10,94.7 453.40,94.7 453.70,94.7 454.00,94.7 454.30,94.7 454.60,94.1 454.90,94.7 455.20,91.9 455.50,94.4 455.80,93.0 456.10,92.1 456.40,92.5 456.70,94.5 457.00,94.7 457.30,94.7 457.60,93.0 457.90,92.7 458.20,93.4 458.50,92.9 458.80,91.9 459.10,94.7 459.40,90.7 459.70,89.6 460.00,92.9 460.30,94.7 460.60,94.2" fill="none" stroke="#3fe23f" stroke-width="0.9"/>
<rect x="383.6" y="21.5" width="77.5" height="73.7" fill="none" stroke="#222" stroke-width="1.2"/>
<line x1="383.6" y1="22.5" x2="383.6" y2="95.2" stroke="#1a6a1a" stroke-width="1.1"/>
<line x1="382.1" y1="21.5" x2="383.6" y2="21.5" stroke="#333" stroke-width="0.8"/>
<line x1="382.1" y1="39.9" x2="383.6" y2="39.9" stroke="#333" stroke-width="0.8"/>
<line x1="382.1" y1="58.4" x2="383.6" y2="58.4" stroke="#333" stroke-width="0.8"/>
<line x1="382.1" y1="76.8" x2="383.6" y2="76.8" stroke="#333" stroke-width="0.8"/>
<line x1="382.1" y1="95.2" x2="383.6" y2="95.2" stroke="#333" stroke-width="0.8"/>
<text x="381.1" y="23.5" font-size="3.5" text-anchor="end" fill="#888" color="#888" style="stroke-width:0">&#8364;</text>
<text x="381.1" y="96.7" font-size="3.5" text-anchor="end" fill="#888" color="#888" style="stroke-width:0">0</text>
<text x="384.40000000000003" y="100.10000000000001" font-size="4.6" text-anchor="middle" fill="#8a8a8a" color="#8a8a8a" style="stroke-width:0.1">10&#8304;</text>
<text x="403.77500000000003" y="100.10000000000001" font-size="4.6" text-anchor="middle" fill="#8a8a8a" color="#8a8a8a" style="stroke-width:0.1">10&#185;</text>
<text x="423.15000000000003" y="100.10000000000001" font-size="4.6" text-anchor="middle" fill="#8a8a8a" color="#8a8a8a" style="stroke-width:0.1">10&#178;</text>
<text x="442.52500000000003" y="100.10000000000001" font-size="4.6" text-anchor="middle" fill="#8a8a8a" color="#8a8a8a" style="stroke-width:0.1">10&#179;</text>
<text x="461.90000000000003" y="100.10000000000001" font-size="4.6" text-anchor="middle" fill="#8a8a8a" color="#8a8a8a" style="stroke-width:0.1">10&#8308;</text>
<line x1="384.40000000000003" y1="109.0" x2="405.6" y2="109.0" stroke="#000" stroke-width="1.7"/>
<path d="M408.8 109.0 L404.6 107.2 L404.6 110.8 Z" fill="#000"/>
<text x="413.90000000000003" y="112.7" font-size="8" text-anchor="start" fill="#000" color="#000" >Cxcr5</text>
<rect x="93.5" y="130.7" width="25.0" height="73.7" fill="#c5c5c5"/>
<polyline points="94.00,202.0 94.30,201.1 94.60,200.1 94.90,198.1 95.20,201.3 95.50,201.5 95.80,199.4 96.10,198.3 96.40,199.8 96.70,196.4 97.00,197.5 97.30,196.4 97.60,195.5 97.90,196.0 98.20,196.5 98.50,198.7 98.80,196.2 99.10,199.8 99.40,200.2 99.70,197.1 100.00,196.1 100.30,195.5 100.60,196.6 100.90,195.9 101.20,199.1 101.50,197.1 101.80,196.8 102.10,197.5 102.40,196.3 102.70,195.9 103.00,196.4 103.30,196.8 103.60,193.5 103.90,197.8 104.20,197.9 104.50,195.3 104.80,193.3 105.10,197.0 105.40,196.6 105.70,192.5 106.00,192.4 106.30,192.8 106.60,195.8 106.90,194.3 107.20,198.9 107.50,197.7 107.80,192.3 108.10,197.0 108.40,195.0 108.70,192.8 109.00,192.5 109.30,193.3 109.60,193.0 109.90,191.2 110.20,192.2 110.50,188.1 110.80,190.9 111.10,188.1 111.40,192.7 111.70,190.9 112.00,192.3 112.30,194.0 112.60,197.1 112.90,192.3 113.20,192.8 113.50,190.9 113.80,192.1 114.10,191.5 114.40,190.5 114.70,187.6 115.00,185.8 115.30,187.9 115.60,188.5 115.90,187.9 116.20,189.3 116.50,189.9 116.80,187.7 117.10,188.4 117.40,186.6 117.70,183.1 118.00,183.5 118.30,181.4 118.60,184.2 118.90,183.8 119.20,185.2 119.50,186.9 119.80,185.4 120.10,180.8 120.40,178.3 120.70,172.3 121.00,175.9 121.30,180.3 121.60,179.2 121.90,177.6 122.20,182.4 122.50,181.5 122.80,180.0 123.10,181.3 123.40,181.8 123.70,182.7 124.00,184.7 124.30,183.4 124.60,184.2 124.90,187.0 125.20,185.6 125.50,185.6 125.80,185.4 126.10,183.2 126.40,183.0 126.70,178.6 127.00,183.0 127.30,185.6 127.60,183.2 127.90,190.7 128.20,190.6 128.50,189.8 128.80,191.9 129.10,193.6 129.40,194.7 129.70,195.2 130.00,197.1 130.30,193.4 130.60,195.5 130.90,198.1 131.20,194.9 131.50,199.0 131.80,197.3 132.10,194.3 132.40,194.9 132.70,197.1 133.00,196.9 133.30,196.5 133.60,197.1 133.90,197.0 134.20,198.4 134.50,198.7 134.80,199.6 135.10,198.8 135.40,199.9 135.70,199.0 136.00,198.9 136.30,198.6 136.60,199.0 136.90,199.8 137.20,200.3 137.50,198.8 137.80,201.0 138.10,200.5 138.40,198.4 138.70,200.1 139.00,200.6 139.30,202.4 139.60,203.8 139.90,202.7 140.20,200.9 140.50,203.9 140.80,203.9 141.10,203.8 141.40,203.9 141.70,203.9 142.00,202.2 142.30,202.9 142.60,203.7 142.90,202.6 143.20,202.9 143.50,201.7 143.80,202.5 144.10,203.2 144.40,202.8 144.70,201.8 145.00,201.3 145.30,203.4 145.60,203.9 145.90,203.3 146.20,202.6 146.50,203.9 146.80,201.7 147.10,203.9 147.40,202.4 147.70,203.2 148.00,203.9 148.30,202.6 148.60,203.0 148.90,203.3 149.20,203.9 149.50,202.0 149.80,202.1 150.10,201.7 150.40,201.0 150.70,200.5 151.00,201.0 151.30,201.1 151.60,202.0 151.90,203.6 152.20,203.8 152.50,201.0 152.80,202.7 153.10,201.8 153.40,203.9 153.70,201.4 154.00,199.8 154.30,201.6 154.60,200.1 154.90,201.1 155.20,201.1 155.50,201.9 155.80,203.9 156.10,202.1 156.40,202.4 156.70,203.0 157.00,202.3 157.30,202.6 157.60,203.1 157.90,203.9 158.20,199.6 158.50,203.9 158.80,202.6 159.10,202.8 159.40,201.2 159.70,202.2 160.00,201.8 160.30,203.9 160.60,203.2 160.90,201.3 161.20,203.4 161.50,203.9 161.80,202.6 162.10,203.8 162.40,203.3 162.70,202.9 163.00,203.9 163.30,203.9 163.60,203.0 163.90,203.9 164.20,203.9 164.50,203.9 164.80,203.9 165.10,203.3 165.40,203.9 165.70,203.2 166.00,201.0 166.30,203.9 166.60,201.7 166.90,201.9 167.20,203.9 167.50,203.9 167.80,203.9 168.10,201.4 168.40,203.8 168.70,203.4 169.00,203.9 169.30,203.9 169.60,201.9 169.90,203.9 170.20,203.9 170.50,203.9" fill="none" stroke="#e24a4a" stroke-width="0.9"/>
<polyline points="94.00,197.7 94.30,198.5 94.60,197.0 94.90,199.9 95.20,198.1 95.50,201.6 95.80,197.4 96.10,197.7 96.40,193.0 96.70,194.5 97.00,194.3 97.30,200.4 97.60,196.5 97.90,197.8 98.20,193.4 98.50,194.6 98.80,197.0 99.10,196.4 99.40,196.6 99.70,196.6 100.00,195.0 100.30,195.0 100.60,196.0 100.90,196.9 101.20,192.2 101.50,195.8 101.80,196.0 102.10,191.8 102.40,196.4 102.70,197.0 103.00,199.0 103.30,199.4 103.60,195.5 103.90,199.1 104.20,196.8 104.50,200.3 104.80,197.0 105.10,199.2 105.40,199.7 105.70,201.4 106.00,195.6 106.30,196.6 106.60,196.5 106.90,194.5 107.20,197.6 107.50,193.3 107.80,194.5 108.10,194.6 108.40,194.3 108.70,196.2 109.00,195.8 109.30,193.1 109.60,194.3 109.90,190.1 110.20,191.5 110.50,191.1 110.80,196.2 111.10,190.3 111.40,195.1 111.70,195.7 112.00,194.9 112.30,190.9 112.60,192.5 112.90,192.3 113.20,191.0 113.50,190.4 113.80,190.0 114.10,191.4 114.40,193.0 114.70,190.7 115.00,193.5 115.30,190.0 115.60,192.7 115.90,188.7 116.20,187.4 116.50,187.7 116.80,188.4 117.10,186.0 117.40,188.7 117.70,188.1 118.00,182.9 118.30,185.6 118.60,185.4 118.90,185.9 119.20,183.8 119.50,181.8 119.80,184.0 120.10,182.0 120.40,183.6 120.70,182.9 121.00,179.4 121.30,183.5 121.60,188.5 121.90,182.9 122.20,179.0 122.50,184.8 122.80,179.6 123.10,181.9 123.40,184.7 123.70,181.5 124.00,186.4 124.30,177.8 124.60,180.6 124.90,179.5 125.20,180.8 125.50,184.3 125.80,182.5 126.10,177.8 126.40,179.2 126.70,183.8 127.00,184.7 127.30,184.1 127.60,185.9 127.90,183.4 128.20,190.0 128.50,188.6 128.80,185.6 129.10,188.3 129.40,190.2 129.70,191.0 130.00,192.4 130.30,192.7 130.60,192.2 130.90,194.5 131.20,196.7 131.50,193.1 131.80,194.9 132.10,192.0 132.40,191.0 132.70,192.1 133.00,191.8 133.30,196.5 133.60,197.3 133.90,195.1 134.20,194.6 134.50,193.5 134.80,198.5 135.10,199.8 135.40,199.8 135.70,199.7 136.00,199.0 136.30,200.7 136.60,198.8 136.90,201.8 137.20,196.5 137.50,200.2 137.80,199.7 138.10,202.6 138.40,200.6 138.70,203.9 139.00,201.0 139.30,203.2 139.60,202.5 139.90,202.5 140.20,201.8 140.50,201.2 140.80,200.4 141.10,200.5 141.40,202.5 141.70,202.9 142.00,201.0 142.30,202.6 142.60,203.9 142.90,203.1 143.20,201.1 143.50,201.3 143.80,203.1 144.10,203.2 144.40,203.5 144.70,201.0 145.00,201.4 145.30,203.3 145.60,199.0 145.90,197.9 146.20,201.8 146.50,199.5 146.80,201.5 147.10,201.1 147.40,200.8 147.70,202.3 148.00,201.6 148.30,202.4 148.60,203.9 148.90,203.0 149.20,203.6 149.50,203.9 149.80,203.1 150.10,203.3 150.40,203.9 150.70,203.0 151.00,203.9 151.30,203.9 151.60,203.2 151.90,203.9 152.20,203.9 152.50,203.9 152.80,203.9 153.10,203.9 153.40,203.9 153.70,203.9 154.00,203.9 154.30,203.0 154.60,203.9 154.90,202.7 155.20,201.9 155.50,199.2 155.80,201.3 156.10,202.5 156.40,203.5 156.70,203.2 157.00,203.9 157.30,203.9 157.60,203.2 157.90,203.9 158.20,203.9 158.50,203.9 158.80,202.3 159.10,202.0 159.40,203.9 159.70,202.4 160.00,203.7 160.30,203.7 160.60,201.9 160.90,203.9 161.20,203.9 161.50,203.9 161.80,203.9 162.10,202.8 162.40,203.9 162.70,203.9 163.00,202.0 163.30,203.9 163.60,203.9 163.90,203.9 164.20,202.9 164.50,203.9 164.80,203.1 165.10,203.1 165.40,203.9 165.70,202.9 166.00,203.9 166.30,203.9 166.60,203.1 166.90,203.1 167.20,203.9 167.50,202.5 167.80,203.5 168.10,203.0 168.40,203.8 168.70,203.9 169.00,201.4 169.30,203.9 169.60,202.4 169.90,203.9 170.20,203.9 170.50,203.9" fill="none" stroke="#3fe23f" stroke-width="0.9"/>
<rect x="93.5" y="130.7" width="77.5" height="73.7" fill="none" stroke="#222" stroke-width="1.2"/>
<line x1="93.5" y1="131.7" x2="93.5" y2="204.39999999999998" stroke="#1a6a1a" stroke-width="1.1"/>
<line x1="92.0" y1="130.7" x2="93.5" y2="130.7" stroke="#333" stroke-width="0.8"/>
<line x1="92.0" y1="149.1" x2="93.5" y2="149.1" stroke="#333" stroke-width="0.8"/>
<line x1="92.0" y1="167.5" x2="93.5" y2="167.5" stroke="#333" stroke-width="0.8"/>
<line x1="92.0" y1="186.0" x2="93.5" y2="186.0" stroke="#333" stroke-width="0.8"/>
<line x1="92.0" y1="204.4" x2="93.5" y2="204.4" stroke="#333" stroke-width="0.8"/>
<text x="91.0" y="132.7" font-size="3.5" text-anchor="end" fill="#888" color="#888" style="stroke-width:0">&#8364;</text>
<text x="91.0" y="205.89999999999998" font-size="3.5" text-anchor="end" fill="#888" color="#888" style="stroke-width:0">0</text>
<text x="94.3" y="209.29999999999998" font-size="4.6" text-anchor="middle" fill="#8a8a8a" color="#8a8a8a" style="stroke-width:0.1">10&#8304;</text>
<text x="113.675" y="209.29999999999998" font-size="4.6" text-anchor="middle" fill="#8a8a8a" color="#8a8a8a" style="stroke-width:0.1">10&#185;</text>
<text x="133.05" y="209.29999999999998" font-size="4.6" text-anchor="middle" fill="#8a8a8a" color="#8a8a8a" style="stroke-width:0.1">10&#178;</text>
<text x="152.425" y="209.29999999999998" font-size="4.6" text-anchor="middle" fill="#8a8a8a" color="#8a8a8a" style="stroke-width:0.1">10&#179;</text>
<text x="171.8" y="209.29999999999998" font-size="4.6" text-anchor="middle" fill="#8a8a8a" color="#8a8a8a" style="stroke-width:0.1">10&#8308;</text>
<line x1="94.3" y1="218.2" x2="115.5" y2="218.2" stroke="#000" stroke-width="1.7"/>
<path d="M118.7 218.2 L114.5 216.39999999999998 L114.5 220.0 Z" fill="#000"/>
<text x="123.8" y="221.89999999999998" font-size="8" text-anchor="start" fill="#000" color="#000" >Cxcr4</text>
<rect x="186.2" y="130.7" width="19.2" height="73.7" fill="#c5c5c5"/>
<polyline points="186.70,198.6 187.00,195.1 187.30,198.0 187.60,199.1 187.90,196.3 188.20,195.4 188.50,195.1 188.80,197.7 189.10,194.0 189.40,194.2 189.70,195.8 190.00,194.3 190.30,192.9 190.60,193.4 190.90,195.1 191.20,191.3 191.50,196.3 191.80,195.1 192.10,196.5 192.40,196.9 192.70,200.5 193.00,192.9 193.30,192.8 193.60,195.6 193.90,192.6 194.20,193.6 194.50,192.9 194.80,194.1 195.10,196.5 195.40,194.9 195.70,194.6 196.00,195.2 196.30,197.7 196.60,193.1 196.90,191.4 197.20,192.6 197.50,194.3 197.80,188.5 198.10,191.7 198.40,189.6 198.70,190.4 199.00,191.7 199.30,189.7 199.60,191.2 199.90,192.1 200.20,193.1 200.50,190.6 200.80,189.7 201.10,191.7 201.40,191.2 201.70,191.4 202.00,189.1 202.30,192.3 202.60,190.6 202.90,190.7 203.20,191.1 203.50,191.1 203.80,190.7 204.10,193.0 204.40,188.5 204.70,192.6 205.00,190.1 205.30,187.5 205.60,187.7 205.90,189.3 206.20,186.1 206.50,186.9 206.80,186.3 207.10,184.4 207.40,184.6 207.70,185.2 208.00,185.1 208.30,178.7 208.60,184.0 208.90,178.1 209.20,183.1 209.50,180.9 209.80,177.1 210.10,182.7 210.40,182.7 210.70,175.8 211.00,172.9 211.30,174.9 211.60,172.9 211.90,176.2 212.20,172.7 212.50,173.1 212.80,175.7 213.10,179.9 213.40,174.3 213.70,182.1 214.00,183.0 214.30,182.7 214.60,178.1 214.90,184.5 215.20,181.6 215.50,177.2 215.80,180.7 216.10,181.9 216.40,183.8 216.70,184.9 217.00,179.9 217.30,186.6 217.60,183.9 217.90,182.8 218.20,187.3 218.50,187.5 218.80,187.6 219.10,190.7 219.40,189.5 219.70,191.5 220.00,191.4 220.30,197.2 220.60,193.7 220.90,194.5 221.20,195.5 221.50,198.6 221.80,195.4 222.10,192.7 222.40,194.1 222.70,197.7 223.00,196.6 223.30,196.0 223.60,194.8 223.90,196.3 224.20,196.4 224.50,197.9 224.80,194.9 225.10,193.6 225.40,197.0 225.70,197.0 226.00,197.9 226.30,200.7 226.60,198.3 226.90,196.8 227.20,197.5 227.50,199.3 227.80,200.2 228.10,200.4 228.40,198.7 228.70,201.7 229.00,201.4 229.30,202.4 229.60,203.2 229.90,203.9 230.20,203.0 230.50,203.9 230.80,203.9 231.10,201.8 231.40,202.3 231.70,203.9 232.00,203.9 232.30,201.9 232.60,203.6 232.90,201.1 233.20,201.9 233.50,201.7 233.80,201.5 234.10,203.9 234.40,203.9 234.70,203.9 235.00,203.9 235.30,202.1 235.60,202.7 235.90,203.9 236.20,202.8 236.50,203.8 236.80,203.6 237.10,203.9 237.40,199.8 237.70,200.4 238.00,201.8 238.30,202.0 238.60,200.6 238.90,201.7 239.20,200.1 239.50,202.5 239.80,200.4 240.10,202.9 240.40,203.9 240.70,203.9 241.00,203.3 241.30,201.2 241.60,203.4 241.90,201.4 242.20,203.8 242.50,201.8 242.80,203.9 243.10,203.9 243.40,203.6 243.70,203.9 244.00,200.5 244.30,203.9 244.60,203.7 244.90,200.6 245.20,201.5 245.50,203.9 245.80,203.2 246.10,202.3 246.40,203.9 246.70,203.9 247.00,203.9 247.30,203.9 247.60,201.6 247.90,202.2 248.20,203.9 248.50,203.9 248.80,202.4 249.10,203.4 249.40,203.5 249.70,203.4 250.00,203.9 250.30,203.9 250.60,203.9 250.90,201.5 251.20,203.2 251.50,203.9 251.80,203.9 252.10,203.2 252.40,203.9 252.70,203.9 253.00,203.9 253.30,203.7 253.60,203.9 253.90,203.7 254.20,203.9 254.50,203.9 254.80,202.5 255.10,202.7 255.40,200.7 255.70,197.3 256.00,201.5 256.30,200.0 256.60,202.0 256.90,203.2 257.20,203.8 257.50,203.9 257.80,203.9 258.10,202.8 258.40,203.9 258.70,203.9 259.00,203.6 259.30,203.9 259.60,203.8 259.90,203.9 260.20,203.9 260.50,203.1 260.80,202.1 261.10,202.7 261.40,203.9 261.70,203.9 262.00,203.5 262.30,203.9 262.60,203.9 262.90,202.6 263.20,202.4" fill="none" stroke="#e24a4a" stroke-width="0.9"/>
<polyline points="186.70,192.5 187.00,195.1 187.30,193.8 187.60,195.9 187.90,193.3 188.20,195.0 188.50,195.4 188.80,198.1 189.10,194.9 189.40,196.6 189.70,193.9 190.00,194.1 190.30,195.2 190.60,194.9 190.90,194.3 191.20,194.4 191.50,191.2 191.80,194.5 192.10,195.5 192.40,192.2 192.70,191.2 193.00,192.6 193.30,192.8 193.60,189.3 193.90,193.4 194.20,194.3 194.50,192.8 194.80,190.2 195.10,193.6 195.40,191.2 195.70,192.7 196.00,191.6 196.30,191.8 196.60,196.5 196.90,189.8 197.20,191.8 197.50,192.3 197.80,192.2 198.10,192.6 198.40,189.1 198.70,191.8 199.00,191.1 199.30,195.4 199.60,189.0 199.90,193.3 200.20,193.5 200.50,196.4 200.80,196.1 201.10,192.5 201.40,198.8 201.70,189.7 202.00,193.7 202.30,193.5 202.60,192.1 202.90,187.5 203.20,192.0 203.50,190.8 203.80,195.1 204.10,191.9 204.40,190.1 204.70,193.6 205.00,197.5 205.30,191.8 205.60,189.2 205.90,188.6 206.20,186.8 206.50,185.9 206.80,188.1 207.10,184.8 207.40,186.8 207.70,186.5 208.00,188.6 208.30,184.1 208.60,185.2 208.90,180.2 209.20,185.2 209.50,178.1 209.80,182.4 210.10,178.0 210.40,182.5 210.70,180.6 211.00,175.4 211.30,181.7 211.60,175.2 211.90,173.6 212.20,177.0 212.50,182.5 212.80,178.3 213.10,181.3 213.40,179.9 213.70,179.0 214.00,174.8 214.30,173.8 214.60,178.0 214.90,174.1 215.20,178.9 215.50,171.9 215.80,180.9 216.10,182.8 216.40,181.0 216.70,178.8 217.00,180.2 217.30,186.1 217.60,181.3 217.90,182.9 218.20,178.9 218.50,186.2 218.80,187.7 219.10,189.0 219.40,186.8 219.70,186.3 220.00,188.0 220.30,189.2 220.60,190.8 220.90,189.7 221.20,189.7 221.50,185.0 221.80,191.2 222.10,193.4 222.40,192.4 222.70,193.3 223.00,198.2 223.30,194.6 223.60,195.9 223.90,197.9 224.20,200.1 224.50,199.7 224.80,198.9 225.10,197.8 225.40,199.3 225.70,202.1 226.00,198.5 226.30,196.6 226.60,199.3 226.90,203.2 227.20,198.8 227.50,198.6 227.80,200.4 228.10,200.7 228.40,199.0 228.70,199.3 229.00,200.7 229.30,200.9 229.60,201.3 229.90,200.4 230.20,202.7 230.50,203.9 230.80,203.9 231.10,202.9 231.40,202.7 231.70,203.0 232.00,201.8 232.30,203.2 232.60,201.4 232.90,201.0 233.20,202.5 233.50,203.5 233.80,203.2 234.10,203.9 234.40,201.5 234.70,203.9 235.00,203.9 235.30,202.9 235.60,203.9 235.90,203.1 236.20,203.8 236.50,203.4 236.80,201.3 237.10,202.9 237.40,203.9 237.70,203.0 238.00,203.2 238.30,200.3 238.60,202.9 238.90,202.5 239.20,199.0 239.50,200.9 239.80,201.4 240.10,201.4 240.40,203.9 240.70,202.3 241.00,201.6 241.30,202.8 241.60,202.5 241.90,203.9 242.20,203.1 242.50,203.9 242.80,203.9 243.10,203.9 243.40,203.9 243.70,203.9 244.00,203.9 244.30,203.9 244.60,202.6 244.90,203.9 245.20,203.9 245.50,203.9 245.80,203.9 246.10,203.9 246.40,203.9 246.70,203.9 247.00,201.5 247.30,203.9 247.60,202.7 247.90,202.6 248.20,202.6 248.50,201.8 248.80,201.8 249.10,202.5 249.40,203.9 249.70,203.3 250.00,203.9 250.30,203.9 250.60,203.9 250.90,203.9 251.20,203.9 251.50,203.9 251.80,203.7 252.10,203.5 252.40,203.9 252.70,203.9 253.00,203.5 253.30,202.0 253.60,202.6 253.90,203.4 254.20,203.9 254.50,203.8 254.80,203.9 255.10,203.9 255.40,203.9 255.70,203.3 256.00,202.0 256.30,203.9 256.60,203.9 256.90,203.9 257.20,203.9 257.50,203.9 257.80,203.9 258.10,203.9 258.40,203.9 258.70,203.9 259.00,202.7 259.30,203.2 259.60,203.4 259.90,202.6 260.20,203.9 260.50,202.6 260.80,203.9 261.10,202.6 261.40,203.9 261.70,203.9 262.00,203.9 262.30,203.3 262.60,203.2 262.90,201.6 263.20,203.9" fill="none" stroke="#3fe23f" stroke-width="0.9"/>
<rect x="186.2" y="130.7" width="77.5" height="73.7" fill="none" stroke="#222" stroke-width="1.2"/>
<line x1="186.2" y1="131.7" x2="186.2" y2="204.39999999999998" stroke="#1a6a1a" stroke-width="1.1"/>
<line x1="184.7" y1="130.7" x2="186.2" y2="130.7" stroke="#333" stroke-width="0.8"/>
<line x1="184.7" y1="149.1" x2="186.2" y2="149.1" stroke="#333" stroke-width="0.8"/>
<line x1="184.7" y1="167.5" x2="186.2" y2="167.5" stroke="#333" stroke-width="0.8"/>
<line x1="184.7" y1="186.0" x2="186.2" y2="186.0" stroke="#333" stroke-width="0.8"/>
<line x1="184.7" y1="204.4" x2="186.2" y2="204.4" stroke="#333" stroke-width="0.8"/>
<text x="183.7" y="132.7" font-size="3.5" text-anchor="end" fill="#888" color="#888" style="stroke-width:0">&#8364;</text>
<text x="183.7" y="205.89999999999998" font-size="3.5" text-anchor="end" fill="#888" color="#888" style="stroke-width:0">0</text>
<text x="187.0" y="209.29999999999998" font-size="4.6" text-anchor="middle" fill="#8a8a8a" color="#8a8a8a" style="stroke-width:0.1">10&#8304;</text>
<text x="206.375" y="209.29999999999998" font-size="4.6" text-anchor="middle" fill="#8a8a8a" color="#8a8a8a" style="stroke-width:0.1">10&#185;</text>
<text x="225.75" y="209.29999999999998" font-size="4.6" text-anchor="middle" fill="#8a8a8a" color="#8a8a8a" style="stroke-width:0.1">10&#178;</text>
<text x="245.125" y="209.29999999999998" font-size="4.6" text-anchor="middle" fill="#8a8a8a" color="#8a8a8a" style="stroke-width:0.1">10&#179;</text>
<text x="264.5" y="209.29999999999998" font-size="4.6" text-anchor="middle" fill="#8a8a8a" color="#8a8a8a" style="stroke-width:0.1">10&#8308;</text>
<line x1="187.0" y1="218.2" x2="208.2" y2="218.2" stroke="#000" stroke-width="1.7"/>
<path d="M211.39999999999998 218.2 L207.2 216.39999999999998 L207.2 220.0 Z" fill="#000"/>
<text x="216.5" y="221.89999999999998" font-size="8" text-anchor="start" fill="#000" color="#000" >Cxcr5</text>
<rect x="290.4" y="130.7" width="25.7" height="73.7" fill="#c5c5c5"/>
<polyline points="290.90,201.3 291.20,201.3 291.50,203.9 291.80,203.9 292.10,196.5 292.40,198.7 292.70,198.7 293.00,198.7 293.30,201.3 293.60,201.3 293.90,201.3 294.20,201.3 294.50,201.3 294.80,201.3 295.10,201.3 295.40,201.3 295.70,201.3 296.00,203.9 296.30,203.9 296.60,198.7 296.90,198.7 297.20,198.7 297.50,198.7 297.80,198.7 298.10,196.5 298.40,201.3 298.70,201.3 299.00,198.7 299.30,198.7 299.60,203.9 299.90,201.3 300.20,201.3 300.50,198.7 300.80,198.7 301.10,198.7 301.40,198.7 301.70,198.7 302.00,198.7 302.30,201.3 302.60,203.9 302.90,203.9 303.20,203.9 303.50,201.3 303.80,201.3 304.10,201.3 304.40,201.3 304.70,201.3 305.00,201.3 305.30,201.3 305.60,201.3 305.90,198.7 306.20,198.7 306.50,198.7 306.80,198.7 307.10,193.5 307.40,193.5 307.70,193.5 308.00,190.9 308.30,190.9 308.60,190.9 308.90,201.3 309.20,201.3 309.50,201.3 309.80,198.7 310.10,198.7 310.40,193.5 310.70,193.5 311.00,190.9 311.30,190.9 311.60,190.9 311.90,190.9 312.20,190.9 312.50,190.9 312.80,190.9 313.10,190.9 313.40,203.9 313.70,188.3 314.00,188.3 314.30,188.3 314.60,188.3 314.90,196.1 315.20,196.1 315.50,196.1 315.80,196.1 316.10,188.3 316.40,188.3 316.70,198.7 317.00,198.7 317.30,188.3 317.60,188.3 317.90,183.1 318.20,183.1 318.50,183.1 318.80,183.1 319.10,196.1 319.40,183.1 319.70,180.5 320.00,180.5 320.30,183.1 320.60,183.1 320.90,183.1 321.20,185.7 321.50,185.7 321.80,185.7 322.10,185.7 322.40,183.1 322.70,185.7 323.00,185.7 323.30,185.7 323.60,185.7 323.90,178.1 324.20,177.9 324.50,177.9 324.80,177.9 325.10,177.9 325.40,177.9 325.70,175.4 326.00,175.3 326.30,175.3 326.60,175.3 326.90,198.7 327.20,177.9 327.50,177.9 327.80,177.9 328.10,177.9 328.40,180.5 328.70,180.5 329.00,180.5 329.30,177.9 329.60,177.9 329.90,177.9 330.20,177.9 330.50,177.9 330.80,172.7 331.10,172.7 331.40,172.7 331.70,175.3 332.00,175.3 332.30,175.3 332.60,175.3 332.90,170.1 333.20,170.1 333.50,170.1 333.80,170.1 334.10,175.3 334.40,175.3 334.70,198.7 335.00,198.7 335.30,203.9 335.60,203.9 335.90,203.9 336.20,183.1 336.50,183.1 336.80,190.9 337.10,190.9 337.40,190.9 337.70,190.9 338.00,193.5 338.30,193.5 338.60,193.5 338.90,190.9 339.20,190.9 339.50,191.1 339.80,198.7 340.10,198.7 340.40,198.7 340.70,198.7 341.00,196.1 341.30,196.1 341.60,196.1 341.90,196.1 342.20,196.1 342.50,203.9 342.80,198.7 343.10,201.3 343.40,201.3 343.70,201.3 344.00,201.3 344.30,201.3 344.60,201.3 344.90,196.5 345.20,196.6 345.50,198.7 345.80,198.7 346.10,198.7 346.40,198.7 346.70,198.7 347.00,198.7 347.30,199.2 347.60,200.9 347.90,203.9 348.20,203.9 348.50,203.9 348.80,203.9 349.10,203.9 349.40,203.9 349.70,203.9 350.00,203.9 350.30,203.9 350.60,203.9 350.90,203.9 351.20,203.9 351.50,203.9 351.80,203.9 352.10,203.9 352.40,203.9 352.70,203.9 353.00,203.9 353.30,203.9 353.60,203.9 353.90,203.9 354.20,203.9 354.50,203.9 354.80,203.9 355.10,203.9 355.40,203.9 355.70,203.9 356.00,203.9 356.30,203.9 356.60,203.9 356.90,203.9 357.20,203.9 357.50,203.9 357.80,203.9 358.10,203.9 358.40,203.9 358.70,203.9 359.00,203.9 359.30,203.9 359.60,203.9 359.90,203.9 360.20,203.9 360.50,203.9 360.80,203.9 361.10,203.9 361.40,203.9 361.70,203.9 362.00,203.9 362.30,203.9 362.60,203.9 362.90,203.9 363.20,203.9 363.50,203.9 363.80,203.9 364.10,203.9 364.40,203.9 364.70,203.9 365.00,203.9 365.30,203.9 365.60,203.9 365.90,203.9 366.20,203.9 366.50,203.9 366.80,203.9 367.10,203.9 367.40,203.9" fill="none" stroke="#3fe23f" stroke-width="0.9"/>
<polyline points="290.90,198.7 291.20,198.7 291.50,198.7 291.80,198.7 292.10,198.7 292.40,198.7 292.70,201.3 293.00,201.3 293.30,201.3 293.60,201.3 293.90,198.7 294.20,198.7 294.50,198.7 294.80,203.9 295.10,203.9 295.40,203.9 295.70,203.9 296.00,201.3 296.30,201.3 296.60,198.7 296.90,198.7 297.20,198.7 297.50,198.7 297.80,198.7 298.10,198.7 298.40,201.3 298.70,201.3 299.00,201.3 299.30,201.3 299.60,201.3 299.90,201.3 300.20,201.3 300.50,198.7 300.80,198.7 301.10,198.7 301.40,198.7 301.70,203.9 302.00,203.9 302.30,203.9 302.60,203.9 302.90,198.7 303.20,203.9 303.50,203.9 303.80,198.7 304.10,203.9 304.40,203.9 304.70,203.9 305.00,198.7 305.30,198.7 305.60,198.7 305.90,203.9 306.20,198.7 306.50,198.7 306.80,198.7 307.10,198.7 307.40,198.7 307.70,201.3 308.00,201.3 308.30,201.3 308.60,201.3 308.90,196.1 309.20,196.1 309.50,196.1 309.80,203.9 310.10,203.9 310.40,203.9 310.70,201.3 311.00,201.3 311.30,201.3 311.60,201.3 311.90,196.1 312.20,196.1 312.50,201.3 312.80,196.1 313.10,196.1 313.40,196.1 313.70,196.1 314.00,201.3 314.30,201.3 314.60,201.3 314.90,201.3 315.20,201.3 315.50,201.3 315.80,201.3 316.10,201.3 316.40,196.1 316.70,196.1 317.00,196.1 317.30,196.1 317.60,203.9 317.90,203.9 318.20,203.9 318.50,203.9 318.80,203.9 319.10,198.7 319.40,193.5 319.70,193.5 320.00,193.5 320.30,198.7 320.60,198.7 320.90,198.7 321.20,198.7 321.50,198.7 321.80,198.7 322.10,190.9 322.40,190.9 322.70,190.9 323.00,190.9 323.30,190.9 323.60,190.9 323.90,190.9 324.20,190.9 324.50,190.9 324.80,201.3 325.10,201.3 325.40,198.7 325.70,198.7 326.00,190.9 326.30,190.9 326.60,190.9 326.90,190.9 327.20,188.3 327.50,188.3 327.80,188.3 328.10,188.3 328.40,185.7 328.70,185.7 329.00,185.7 329.30,185.7 329.60,188.3 329.90,188.3 330.20,198.7 330.50,188.3 330.80,188.3 331.10,188.3 331.40,193.5 331.70,193.5 332.00,193.5 332.30,193.5 332.60,201.3 332.90,201.3 333.20,201.3 333.50,201.3 333.80,190.9 334.10,190.9 334.40,190.9 334.70,190.9 335.00,188.3 335.30,188.3 335.60,188.3 335.90,190.9 336.20,190.9 336.50,190.9 336.80,201.3 337.10,201.3 337.40,201.3 337.70,193.5 338.00,193.5 338.30,193.5 338.60,196.1 338.90,201.3 339.20,201.3 339.50,196.1 339.80,196.1 340.10,196.1 340.40,196.1 340.70,198.7 341.00,203.9 341.30,203.9 341.60,203.9 341.90,196.1 342.20,196.1 342.50,196.3 342.80,196.4 343.10,198.7 343.40,198.7 343.70,198.7 344.00,198.7 344.30,198.7 344.60,198.7 344.90,198.7 345.20,201.3 345.50,201.3 345.80,201.3 346.10,198.7 346.40,201.3 346.70,201.3 347.00,201.3 347.30,201.3 347.60,201.3 347.90,203.9 348.20,203.9 348.50,203.9 348.80,203.9 349.10,203.9 349.40,203.9 349.70,203.9 350.00,203.9 350.30,203.9 350.60,203.9 350.90,203.9 351.20,203.9 351.50,203.9 351.80,203.9 352.10,203.9 352.40,203.9 352.70,203.9 353.00,203.9 353.30,203.9 353.60,203.9 353.90,203.9 354.20,203.9 354.50,203.9 354.80,203.9 355.10,203.9 355.40,203.9 355.70,203.9 356.00,203.9 356.30,203.9 356.60,203.9 356.90,203.9 357.20,203.9 357.50,203.9 357.80,203.9 358.10,203.9 358.40,203.9 358.70,203.9 359.00,203.9 359.30,203.9 359.60,203.9 359.90,203.9 360.20,203.9 360.50,203.9 360.80,203.9 361.10,203.9 361.40,203.9 361.70,203.9 362.00,203.9 362.30,203.9 362.60,203.9 362.90,203.9 363.20,203.9 363.50,203.9 363.80,203.9 364.10,203.9 364.40,203.9 364.70,203.9 365.00,203.9 365.30,203.9 365.60,203.9 365.90,203.9 366.20,203.9 366.50,203.9 366.80,203.9 367.10,203.9 367.40,203.9" fill="none" stroke="#e24a4a" stroke-width="0.9"/>
<rect x="290.4" y="130.7" width="77.5" height="73.7" fill="none" stroke="#222" stroke-width="1.2"/>
<line x1="290.4" y1="131.7" x2="290.4" y2="204.39999999999998" stroke="#1a6a1a" stroke-width="1.1"/>
<line x1="288.9" y1="130.7" x2="290.4" y2="130.7" stroke="#333" stroke-width="0.8"/>
<line x1="288.9" y1="149.1" x2="290.4" y2="149.1" stroke="#333" stroke-width="0.8"/>
<line x1="288.9" y1="167.5" x2="290.4" y2="167.5" stroke="#333" stroke-width="0.8"/>
<line x1="288.9" y1="186.0" x2="290.4" y2="186.0" stroke="#333" stroke-width="0.8"/>
<line x1="288.9" y1="204.4" x2="290.4" y2="204.4" stroke="#333" stroke-width="0.8"/>
<text x="287.9" y="132.7" font-size="3.5" text-anchor="end" fill="#888" color="#888" style="stroke-width:0">&#8364;</text>
<text x="287.9" y="205.89999999999998" font-size="3.5" text-anchor="end" fill="#888" color="#888" style="stroke-width:0">0</text>
<text x="291.2" y="209.29999999999998" font-size="4.6" text-anchor="middle" fill="#8a8a8a" color="#8a8a8a" style="stroke-width:0.1">10&#8304;</text>
<text x="310.575" y="209.29999999999998" font-size="4.6" text-anchor="middle" fill="#8a8a8a" color="#8a8a8a" style="stroke-width:0.1">10&#185;</text>
<text x="329.95" y="209.29999999999998" font-size="4.6" text-anchor="middle" fill="#8a8a8a" color="#8a8a8a" style="stroke-width:0.1">10&#178;</text>
<text x="349.325" y="209.29999999999998" font-size="4.6" text-anchor="middle" fill="#8a8a8a" color="#8a8a8a" style="stroke-width:0.1">10&#179;</text>
<text x="368.7" y="209.29999999999998" font-size="4.6" text-anchor="middle" fill="#8a8a8a" color="#8a8a8a" style="stroke-width:0.1">10&#8308;</text>
<line x1="291.2" y1="218.2" x2="312.4" y2="218.2" stroke="#000" stroke-width="1.7"/>
<path d="M315.59999999999997 218.2 L311.4 216.39999999999998 L311.4 220.0 Z" fill="#000"/>
<text x="320.7" y="221.89999999999998" font-size="8" text-anchor="start" fill="#000" color="#000" >Cxcr4</text>
<rect x="383.6" y="130.7" width="25.0" height="73.7" fill="#c5c5c5"/>
<polyline points="384.10,203.9 384.40,203.9 384.70,203.9 385.00,203.9 385.30,203.9 385.60,203.9 385.90,203.9 386.20,203.9 386.50,203.9 386.80,203.9 387.10,203.9 387.40,203.9 387.70,203.9 388.00,203.9 388.30,203.9 388.60,203.9 388.90,201.3 389.20,198.7 389.50,201.3 389.80,201.3 390.10,201.3 390.40,201.9 390.70,203.9 391.00,203.9 391.30,203.9 391.60,203.9 391.90,203.9 392.20,203.9 392.50,203.9 392.80,203.9 393.10,203.9 393.40,203.9 393.70,203.9 394.00,203.9 394.30,203.9 394.60,203.9 394.90,203.9 395.20,203.9 395.50,203.9 395.80,201.3 396.10,201.3 396.40,201.3 396.70,198.7 397.00,198.7 397.30,199.9 397.60,201.8 397.90,203.9 398.20,203.9 398.50,203.9 398.80,203.9 399.10,203.9 399.40,203.9 399.70,203.9 400.00,203.9 400.30,203.9 400.60,203.9 400.90,203.9 401.20,203.9 401.50,203.9 401.80,203.9 402.10,203.9 402.40,203.9 402.70,203.9 403.00,203.9 403.30,203.9 403.60,203.9 403.90,203.9 404.20,203.9 404.50,203.9 404.80,203.9 405.10,203.9 405.40,203.9 405.70,203.9 406.00,203.9 406.30,203.9 406.60,203.9 406.90,203.9 407.20,203.9 407.50,203.9 407.80,203.9 408.10,203.9 408.40,203.9 408.70,201.3 409.00,201.3 409.30,201.3 409.60,201.3 409.90,203.9 410.20,203.9 410.50,203.9 410.80,203.9 411.10,198.7 411.40,198.7 411.70,196.5 412.00,196.5 412.30,201.3 412.60,201.3 412.90,201.3 413.20,201.3 413.50,198.7 413.80,198.7 414.10,201.3 414.40,201.3 414.70,203.9 415.00,203.9 415.30,203.9 415.60,203.9 415.90,203.9 416.20,203.9 416.50,198.7 416.80,196.5 417.10,196.5 417.40,198.7 417.70,198.7 418.00,198.7 418.30,198.7 418.60,198.7 418.90,198.7 419.20,198.7 419.50,196.1 419.80,196.1 420.10,193.5 420.40,193.5 420.70,193.5 421.00,193.5 421.30,203.9 421.60,203.9 421.90,203.9 422.20,190.9 422.50,190.9 422.80,190.9 423.10,198.7 423.40,198.7 423.70,198.7 424.00,198.7 424.30,190.9 424.60,190.9 424.90,190.9 425.20,190.9 425.50,190.9 425.80,198.7 426.10,198.7 426.40,203.9 426.70,185.7 427.00,185.7 427.30,185.7 427.60,198.7 427.90,198.7 428.20,183.1 428.50,183.1 428.80,183.1 429.10,183.1 429.40,180.5 429.70,180.5 430.00,180.5 430.30,180.5 430.60,180.5 430.90,177.9 431.20,177.9 431.50,177.9 431.80,183.1 432.10,183.1 432.40,183.1 432.70,193.5 433.00,183.1 433.30,183.1 433.60,183.1 433.90,183.1 434.20,177.9 434.50,177.9 434.80,177.9 435.10,177.9 435.40,177.9 435.70,177.9 436.00,177.9 436.30,177.9 436.60,190.9 436.90,190.9 437.20,190.9 437.50,190.9 437.80,183.1 438.10,183.1 438.40,183.1 438.70,183.1 439.00,183.1 439.30,177.9 439.60,183.1 439.90,183.1 440.20,183.1 440.50,183.1 440.80,183.1 441.10,193.5 441.40,193.5 441.70,193.5 442.00,193.5 442.30,193.5 442.60,201.3 442.90,201.3 443.20,185.7 443.50,193.5 443.80,203.9 444.10,203.9 444.40,203.9 444.70,203.9 445.00,190.9 445.30,190.9 445.60,190.9 445.90,190.9 446.20,190.9 446.50,190.9 446.80,190.9 447.10,190.9 447.40,201.3 447.70,201.3 448.00,201.3 448.30,201.3 448.60,196.1 448.90,196.1 449.20,196.1 449.50,196.1 449.80,193.8 450.10,194.1 450.40,194.5 450.70,196.1 451.00,196.1 451.30,196.1 451.60,196.1 451.90,196.4 452.20,196.6 452.50,203.9 452.80,203.9 453.10,203.9 453.40,203.9 453.70,203.9 454.00,203.9 454.30,201.3 454.60,201.3 454.90,201.3 455.20,201.3 455.50,201.3 455.80,198.7 456.10,198.7 456.40,199.7 456.70,201.4 457.00,203.9 457.30,203.9 457.60,203.9 457.90,203.9 458.20,203.9 458.50,203.9 458.80,203.9 459.10,203.9 459.40,203.9 459.70,203.9 460.00,203.9 460.30,203.9 460.60,203.9" fill="none" stroke="#3fe23f" stroke-width="0.9"/>
<polyline points="384.10,203.9 384.40,203.9 384.70,203.9 385.00,203.9 385.30,203.9 385.60,203.9 385.90,203.9 386.20,203.9 386.50,203.9 386.80,203.9 387.10,203.9 387.40,203.9 387.70,203.9 388.00,203.9 388.30,203.9 388.60,203.9 388.90,203.9 389.20,203.9 389.50,203.9 389.80,203.9 390.10,203.9 390.40,203.9 390.70,203.9 391.00,203.9 391.30,203.9 391.60,203.9 391.90,203.9 392.20,203.9 392.50,203.9 392.80,203.9 393.10,203.9 393.40,203.9 393.70,203.9 394.00,203.9 394.30,203.9 394.60,203.9 394.90,203.9 395.20,203.9 395.50,203.9 395.80,203.9 396.10,203.9 396.40,203.9 396.70,203.9 397.00,203.9 397.30,203.9 397.60,203.9 397.90,203.9 398.20,203.9 398.50,203.9 398.80,203.9 399.10,203.9 399.40,203.9 399.70,203.9 400.00,203.9 400.30,203.9 400.60,203.9 400.90,203.9 401.20,203.9 401.50,203.9 401.80,203.9 402.10,203.9 402.40,203.9 402.70,203.9 403.00,203.9 403.30,203.9 403.60,203.9 403.90,203.9 404.20,203.9 404.50,203.9 404.80,203.9 405.10,203.9 405.40,203.9 405.70,203.9 406.00,203.9 406.30,203.9 406.60,203.9 406.90,203.9 407.20,203.9 407.50,203.9 407.80,203.9 408.10,203.9 408.40,203.9 408.70,203.9 409.00,203.9 409.30,203.9 409.60,201.3 409.90,201.3 410.20,201.3 410.50,198.7 410.80,198.7 411.10,198.7 411.40,198.7 411.70,201.3 412.00,201.3 412.30,198.7 412.60,201.3 412.90,201.3 413.20,201.3 413.50,201.3 413.80,201.3 414.10,201.3 414.40,201.3 414.70,201.3 415.00,201.3 415.30,201.3 415.60,201.3 415.90,201.3 416.20,201.3 416.50,198.7 416.80,201.3 417.10,201.3 417.40,203.9 417.70,203.9 418.00,203.9 418.30,201.3 418.60,198.7 418.90,198.7 419.20,201.3 419.50,201.3 419.80,201.3 420.10,201.3 420.40,201.3 420.70,201.3 421.00,201.3 421.30,201.3 421.60,201.3 421.90,198.7 422.20,198.7 422.50,198.7 422.80,198.7 423.10,201.3 423.40,201.3 423.70,201.3 424.00,198.7 424.30,198.7 424.60,198.7 424.90,198.7 425.20,201.3 425.50,201.3 425.80,201.3 426.10,201.3 426.40,198.7 426.70,198.7 427.00,198.7 427.30,201.3 427.60,201.3 427.90,201.3 428.20,201.3 428.50,198.7 428.80,198.7 429.10,203.9 429.40,203.9 429.70,203.9 430.00,203.9 430.30,203.9 430.60,203.9 430.90,203.9 431.20,193.5 431.50,193.5 431.80,193.5 432.10,193.5 432.40,193.5 432.70,198.7 433.00,198.7 433.30,198.7 433.60,198.7 433.90,190.9 434.20,190.9 434.50,190.9 434.80,198.7 435.10,198.7 435.40,198.7 435.70,198.7 436.00,196.1 436.30,196.1 436.60,196.1 436.90,196.1 437.20,201.3 437.50,201.3 437.80,201.3 438.10,201.3 438.40,201.3 438.70,201.3 439.00,201.3 439.30,196.1 439.60,201.3 439.90,201.3 440.20,201.3 440.50,201.3 440.80,201.3 441.10,201.3 441.40,196.1 441.70,196.2 442.00,196.5 442.30,196.6 442.60,198.7 442.90,198.7 443.20,201.3 443.50,203.9 443.80,198.7 444.10,201.3 444.40,198.7 444.70,198.7 445.00,198.7 445.30,198.7 445.60,201.3 445.90,201.3 446.20,201.3 446.50,203.9 446.80,198.7 447.10,198.7 447.40,198.7 447.70,198.7 448.00,198.7 448.30,203.9 448.60,203.9 448.90,203.9 449.20,203.9 449.50,198.7 449.80,198.7 450.10,198.7 450.40,198.7 450.70,198.7 451.00,198.7 451.30,198.7 451.60,198.7 451.90,198.7 452.20,201.3 452.50,201.3 452.80,201.3 453.10,201.3 453.40,198.9 453.70,203.9 454.00,203.9 454.30,201.3 454.60,199.2 454.90,199.2 455.20,199.3 455.50,201.3 455.80,201.3 456.10,203.9 456.40,203.9 456.70,203.9 457.00,203.9 457.30,203.9 457.60,203.9 457.90,203.9 458.20,203.9 458.50,203.9 458.80,203.9 459.10,203.9 459.40,203.9 459.70,203.9 460.00,203.9 460.30,203.9 460.60,203.9" fill="none" stroke="#e24a4a" stroke-width="0.9"/>
<rect x="383.6" y="130.7" width="77.5" height="73.7" fill="none" stroke="#222" stroke-width="1.2"/>
<line x1="383.6" y1="131.7" x2="383.6" y2="204.39999999999998" stroke="#1a6a1a" stroke-width="1.1"/>
<line x1="382.1" y1="130.7" x2="383.6" y2="130.7" stroke="#333" stroke-width="0.8"/>
<line x1="382.1" y1="149.1" x2="383.6" y2="149.1" stroke="#333" stroke-width="0.8"/>
<line x1="382.1" y1="167.5" x2="383.6" y2="167.5" stroke="#333" stroke-width="0.8"/>
<line x1="382.1" y1="186.0" x2="383.6" y2="186.0" stroke="#333" stroke-width="0.8"/>
<line x1="382.1" y1="204.4" x2="383.6" y2="204.4" stroke="#333" stroke-width="0.8"/>
<text x="381.1" y="132.7" font-size="3.5" text-anchor="end" fill="#888" color="#888" style="stroke-width:0">&#8364;</text>
<text x="381.1" y="205.89999999999998" font-size="3.5" text-anchor="end" fill="#888" color="#888" style="stroke-width:0">0</text>
<text x="384.40000000000003" y="209.29999999999998" font-size="4.6" text-anchor="middle" fill="#8a8a8a" color="#8a8a8a" style="stroke-width:0.1">10&#8304;</text>
<text x="403.77500000000003" y="209.29999999999998" font-size="4.6" text-anchor="middle" fill="#8a8a8a" color="#8a8a8a" style="stroke-width:0.1">10&#185;</text>
<text x="423.15000000000003" y="209.29999999999998" font-size="4.6" text-anchor="middle" fill="#8a8a8a" color="#8a8a8a" style="stroke-width:0.1">10&#178;</text>
<text x="442.52500000000003" y="209.29999999999998" font-size="4.6" text-anchor="middle" fill="#8a8a8a" color="#8a8a8a" style="stroke-width:0.1">10&#179;</text>
<text x="461.90000000000003" y="209.29999999999998" font-size="4.6" text-anchor="middle" fill="#8a8a8a" color="#8a8a8a" style="stroke-width:0.1">10&#8308;</text>
<line x1="384.40000000000003" y1="218.2" x2="405.6" y2="218.2" stroke="#000" stroke-width="1.7"/>
<path d="M408.8 218.2 L404.6 216.39999999999998 L404.6 220.0 Z" fill="#000"/>
<text x="413.90000000000003" y="221.89999999999998" font-size="8" text-anchor="start" fill="#000" color="#000" >Ccr7</text>
<rect x="93.5" y="242.3" width="25.3" height="73.7" fill="#c5c5c5"/>
<polyline points="94.00,300.0 94.30,304.1 94.60,301.6 94.90,303.4 95.20,298.9 95.50,300.6 95.80,297.4 96.10,301.5 96.40,299.0 96.70,297.2 97.00,296.4 97.30,304.4 97.60,299.4 97.90,300.3 98.20,299.2 98.50,300.3 98.80,300.0 99.10,300.7 99.40,296.8 99.70,295.3 100.00,302.9 100.30,295.7 100.60,301.9 100.90,298.9 101.20,300.5 101.50,298.6 101.80,301.3 102.10,299.0 102.40,305.1 102.70,300.4 103.00,297.9 103.30,299.0 103.60,301.8 103.90,298.6 104.20,293.0 104.50,293.6 104.80,293.2 105.10,297.6 105.40,297.0 105.70,297.2 106.00,297.0 106.30,299.5 106.60,299.4 106.90,294.4 107.20,300.7 107.50,295.3 107.80,297.5 108.10,298.4 108.40,296.1 108.70,297.0 109.00,291.8 109.30,289.0 109.60,291.4 109.90,294.0 110.20,293.3 110.50,295.6 110.80,291.5 111.10,294.8 111.40,287.4 111.70,295.1 112.00,296.2 112.30,297.2 112.60,293.3 112.90,293.8 113.20,297.2 113.50,289.3 113.80,291.0 114.10,285.2 114.40,287.5 114.70,290.4 115.00,287.1 115.30,290.8 115.60,288.6 115.90,291.2 116.20,292.5 116.50,297.8 116.80,292.9 117.10,291.2 117.40,289.3 117.70,286.7 118.00,283.6 118.30,281.7 118.60,291.4 118.90,288.7 119.20,288.8 119.50,284.3 119.80,292.8 120.10,294.9 120.40,296.3 120.70,293.7 121.00,303.6 121.30,293.7 121.60,295.7 121.90,300.0 122.20,299.1 122.50,302.6 122.80,303.4 123.10,305.2 123.40,303.8 123.70,302.8 124.00,304.4 124.30,306.8 124.60,305.3 124.90,306.1 125.20,307.7 125.50,307.0 125.80,313.1 126.10,311.2 126.40,313.3 126.70,313.2 127.00,314.4 127.30,312.0 127.60,314.2 127.90,311.6 128.20,308.5 128.50,312.2 128.80,311.7 129.10,309.7 129.40,310.5 129.70,308.4 130.00,313.0 130.30,311.0 130.60,312.6 130.90,309.9 131.20,311.4 131.50,311.1 131.80,313.7 132.10,310.2 132.40,315.0 132.70,314.5 133.00,313.6 133.30,314.6 133.60,312.7 133.90,313.5 134.20,315.4 134.50,312.0 134.80,312.8 135.10,313.7 135.40,314.2 135.70,314.7 136.00,312.9 136.30,312.8 136.60,312.6 136.90,313.6 137.20,313.9 137.50,315.5 137.80,312.9 138.10,314.1 138.40,315.5 138.70,315.3 139.00,312.2 139.30,314.0 139.60,314.8 139.90,314.8 140.20,312.7 140.50,313.6 140.80,315.4 141.10,314.7 141.40,308.7 141.70,313.5 142.00,313.6 142.30,313.8 142.60,313.4 142.90,312.7 143.20,314.0 143.50,314.6 143.80,314.8 144.10,314.5 144.40,311.2 144.70,311.3 145.00,313.0 145.30,311.3 145.60,315.0 145.90,314.8 146.20,315.5 146.50,312.0 146.80,312.6 147.10,315.3 147.40,312.5 147.70,313.8 148.00,312.7 148.30,312.4 148.60,313.0 148.90,313.7 149.20,314.0 149.50,311.1 149.80,314.5 150.10,313.0 150.40,311.8 150.70,310.7 151.00,315.5 151.30,313.6 151.60,315.5 151.90,315.5 152.20,313.5 152.50,314.4 152.80,315.5 153.10,313.0 153.40,315.5 153.70,314.0 154.00,315.5 154.30,315.5 154.60,315.5 154.90,315.5 155.20,315.5 155.50,313.6 155.80,315.5 156.10,314.3 156.40,312.2 156.70,315.5 157.00,314.3 157.30,313.8 157.60,313.8 157.90,313.7 158.20,314.5 158.50,314.5 158.80,313.8 159.10,315.5 159.40,315.5 159.70,315.2 160.00,315.1 160.30,311.1 160.60,315.5 160.90,315.5 161.20,315.5 161.50,315.4 161.80,314.0 162.10,315.5 162.40,314.0 162.70,315.4 163.00,315.0 163.30,313.6 163.60,314.3 163.90,315.5 164.20,312.6 164.50,313.4 164.80,310.6 165.10,314.9 165.40,314.1 165.70,315.5 166.00,314.6 166.30,315.5 166.60,315.5 166.90,313.7 167.20,315.5 167.50,315.5 167.80,314.4 168.10,313.6 168.40,312.9 168.70,312.7 169.00,315.5 169.30,315.5 169.60,315.5 169.90,312.7 170.20,310.7 170.50,313.0" fill="none" stroke="#e24a4a" stroke-width="0.9"/>
<polyline points="94.00,279.9 94.30,284.4 94.60,293.7 94.90,298.4 95.20,295.2 95.50,299.9 95.80,298.1 96.10,294.0 96.40,303.0 96.70,301.9 97.00,301.5 97.30,299.3 97.60,296.2 97.90,295.2 98.20,298.9 98.50,293.2 98.80,295.9 99.10,293.8 99.40,291.9 99.70,293.4 100.00,297.3 100.30,296.9 100.60,295.4 100.90,296.2 101.20,300.1 101.50,298.4 101.80,296.8 102.10,292.0 102.40,294.8 102.70,296.0 103.00,298.9 103.30,299.0 103.60,296.2 103.90,300.1 104.20,295.5 104.50,299.7 104.80,296.1 105.10,295.5 105.40,295.7 105.70,296.4 106.00,290.1 106.30,296.8 106.60,295.5 106.90,298.9 107.20,292.9 107.50,291.2 107.80,290.5 108.10,292.9 108.40,288.3 108.70,293.7 109.00,290.1 109.30,288.5 109.60,298.2 109.90,295.9 110.20,288.3 110.50,290.4 110.80,291.9 111.10,292.3 111.40,286.0 111.70,289.0 112.00,291.6 112.30,295.0 112.60,289.9 112.90,293.0 113.20,289.0 113.50,291.0 113.80,285.7 114.10,290.7 114.40,287.0 114.70,282.8 115.00,292.5 115.30,285.0 115.60,288.3 115.90,276.4 116.20,281.4 116.50,283.6 116.80,280.9 117.10,280.7 117.40,284.4 117.70,285.5 118.00,281.2 118.30,282.4 118.60,278.1 118.90,291.4 119.20,287.9 119.50,283.6 119.80,284.8 120.10,291.5 120.40,287.8 120.70,291.1 121.00,288.7 121.30,295.6 121.60,290.6 121.90,295.5 122.20,296.1 122.50,294.2 122.80,297.0 123.10,298.2 123.40,294.5 123.70,303.4 124.00,299.5 124.30,298.0 124.60,298.4 124.90,303.3 125.20,305.7 125.50,301.2 125.80,306.4 126.10,306.9 126.40,308.6 126.70,311.8 127.00,310.9 127.30,310.9 127.60,314.5 127.90,308.6 128.20,312.2 128.50,309.0 128.80,310.3 129.10,313.4 129.40,311.8 129.70,312.3 130.00,311.1 130.30,310.8 130.60,311.1 130.90,311.2 131.20,312.4 131.50,313.8 131.80,315.1 132.10,312.2 132.40,312.3 132.70,311.4 133.00,314.3 133.30,311.7 133.60,313.7 133.90,311.9 134.20,312.4 134.50,311.9 134.80,308.0 135.10,309.9 135.40,312.6 135.70,313.5 136.00,313.9 136.30,313.8 136.60,313.1 136.90,311.7 137.20,312.2 137.50,310.0 137.80,309.1 138.10,308.0 138.40,309.7 138.70,310.6 139.00,308.8 139.30,315.5 139.60,313.8 139.90,313.8 140.20,313.0 140.50,315.5 140.80,315.5 141.10,315.5 141.40,314.2 141.70,315.5 142.00,309.9 142.30,312.7 142.60,314.2 142.90,309.7 143.20,312.4 143.50,314.4 143.80,311.7 144.10,313.6 144.40,315.5 144.70,313.1 145.00,310.4 145.30,315.1 145.60,312.8 145.90,311.2 146.20,312.7 146.50,310.1 146.80,312.2 147.10,309.1 147.40,311.8 147.70,312.1 148.00,311.6 148.30,313.1 148.60,313.7 148.90,314.0 149.20,314.7 149.50,315.2 149.80,315.5 150.10,312.9 150.40,313.1 150.70,315.5 151.00,315.5 151.30,315.5 151.60,315.5 151.90,313.7 152.20,315.5 152.50,315.2 152.80,315.5 153.10,314.3 153.40,313.7 153.70,310.4 154.00,311.9 154.30,313.2 154.60,313.3 154.90,312.7 155.20,311.7 155.50,315.5 155.80,313.0 156.10,312.4 156.40,313.7 156.70,315.5 157.00,315.5 157.30,315.5 157.60,311.2 157.90,312.8 158.20,310.8 158.50,313.3 158.80,312.7 159.10,314.4 159.40,310.8 159.70,314.8 160.00,313.5 160.30,310.5 160.60,309.9 160.90,313.2 161.20,311.2 161.50,313.0 161.80,312.1 162.10,314.4 162.40,311.6 162.70,311.8 163.00,311.8 163.30,311.6 163.60,311.5 163.90,309.9 164.20,312.3 164.50,311.0 164.80,313.6 165.10,312.4 165.40,313.2 165.70,313.6 166.00,315.0 166.30,315.5 166.60,313.2 166.90,315.5 167.20,315.0 167.50,315.4 167.80,312.4 168.10,314.4 168.40,315.5 168.70,315.5 169.00,314.2 169.30,311.8 169.60,312.3 169.90,310.6 170.20,314.4 170.50,315.1" fill="none" stroke="#3fe23f" stroke-width="0.9"/>
<rect x="93.5" y="242.3" width="77.5" height="73.7" fill="none" stroke="#222" stroke-width="1.2"/>
<line x1="93.5" y1="243.3" x2="93.5" y2="316.0" stroke="#1a6a1a" stroke-width="1.1"/>
<line x1="92.0" y1="242.3" x2="93.5" y2="242.3" stroke="#333" stroke-width="0.8"/>
<line x1="92.0" y1="260.7" x2="93.5" y2="260.7" stroke="#333" stroke-width="0.8"/>
<line x1="92.0" y1="279.2" x2="93.5" y2="279.2" stroke="#333" stroke-width="0.8"/>
<line x1="92.0" y1="297.6" x2="93.5" y2="297.6" stroke="#333" stroke-width="0.8"/>
<line x1="92.0" y1="316.0" x2="93.5" y2="316.0" stroke="#333" stroke-width="0.8"/>
<text x="91.0" y="244.3" font-size="3.5" text-anchor="end" fill="#888" color="#888" style="stroke-width:0">&#8364;</text>
<text x="91.0" y="317.5" font-size="3.5" text-anchor="end" fill="#888" color="#888" style="stroke-width:0">0</text>
<text x="94.3" y="320.9" font-size="4.6" text-anchor="middle" fill="#8a8a8a" color="#8a8a8a" style="stroke-width:0.1">10&#8304;</text>
<text x="113.675" y="320.9" font-size="4.6" text-anchor="middle" fill="#8a8a8a" color="#8a8a8a" style="stroke-width:0.1">10&#185;</text>
<text x="133.05" y="320.9" font-size="4.6" text-anchor="middle" fill="#8a8a8a" color="#8a8a8a" style="stroke-width:0.1">10&#178;</text>
<text x="152.425" y="320.9" font-size="4.6" text-anchor="middle" fill="#8a8a8a" color="#8a8a8a" style="stroke-width:0.1">10&#179;</text>
<text x="171.8" y="320.9" font-size="4.6" text-anchor="middle" fill="#8a8a8a" color="#8a8a8a" style="stroke-width:0.1">10&#8308;</text>
<line x1="94.3" y1="331.8" x2="115.5" y2="331.8" stroke="#000" stroke-width="1.7"/>
<path d="M118.7 331.8 L114.5 330.0 L114.5 333.6 Z" fill="#000"/>
<text x="123.8" y="335.5" font-size="8" text-anchor="start" fill="#000" color="#000" >Cxcr4</text>
<rect x="186.2" y="242.3" width="19.4" height="73.7" fill="#c5c5c5"/>
<polyline points="186.70,313.0 187.00,308.5 187.30,310.4 187.60,312.0 187.90,311.8 188.20,310.3 188.50,313.4 188.80,314.9 189.10,312.9 189.40,315.3 189.70,314.5 190.00,314.3 190.30,311.8 190.60,312.4 190.90,313.1 191.20,315.5 191.50,314.1 191.80,315.5 192.10,315.5 192.40,315.4 192.70,315.5 193.00,315.5 193.30,313.3 193.60,313.8 193.90,315.5 194.20,314.2 194.50,315.1 194.80,313.0 195.10,314.3 195.40,312.1 195.70,315.5 196.00,311.3 196.30,313.2 196.60,315.5 196.90,315.5 197.20,315.5 197.50,314.9 197.80,315.0 198.10,313.2 198.40,311.9 198.70,310.6 199.00,313.6 199.30,313.6 199.60,308.8 199.90,310.0 200.20,308.3 200.50,311.9 200.80,310.1 201.10,310.5 201.40,303.5 201.70,313.1 202.00,311.7 202.30,308.4 202.60,307.5 202.90,313.1 203.20,311.5 203.50,312.5 203.80,305.4 204.10,306.0 204.40,306.4 204.70,307.6 205.00,305.1 205.30,305.3 205.60,304.4 205.90,307.4 206.20,302.3 206.50,307.0 206.80,307.1 207.10,306.3 207.40,303.2 207.70,305.8 208.00,300.1 208.30,299.6 208.60,303.1 208.90,297.8 209.20,303.7 209.50,303.6 209.80,296.1 210.10,298.9 210.40,297.7 210.70,302.7 211.00,303.5 211.30,301.5 211.60,295.2 211.90,298.0 212.20,303.1 212.50,297.5 212.80,295.2 213.10,296.0 213.40,289.5 213.70,292.1 214.00,287.5 214.30,288.6 214.60,293.3 214.90,291.0 215.20,291.1 215.50,284.6 215.80,285.1 216.10,287.7 216.40,278.6 216.70,277.6 217.00,287.1 217.30,289.0 217.60,282.9 217.90,282.6 218.20,291.7 218.50,290.5 218.80,287.8 219.10,283.9 219.40,286.7 219.70,291.6 220.00,289.3 220.30,289.4 220.60,287.0 220.90,280.6 221.20,281.1 221.50,282.3 221.80,288.0 222.10,281.3 222.40,286.0 222.70,287.3 223.00,283.6 223.30,290.1 223.60,289.2 223.90,291.4 224.20,296.6 224.50,296.4 224.80,297.3 225.10,299.8 225.40,303.2 225.70,297.7 226.00,302.4 226.30,303.4 226.60,304.8 226.90,301.8 227.20,304.2 227.50,301.3 227.80,308.7 228.10,308.1 228.40,308.2 228.70,308.3 229.00,311.1 229.30,311.6 229.60,311.6 229.90,312.9 230.20,313.3 230.50,312.9 230.80,315.0 231.10,315.5 231.40,311.5 231.70,311.4 232.00,313.1 232.30,310.3 232.60,310.1 232.90,309.9 233.20,312.8 233.50,310.8 233.80,311.5 234.10,313.6 234.40,313.5 234.70,312.0 235.00,312.2 235.30,311.9 235.60,313.0 235.90,312.8 236.20,312.8 236.50,315.2 236.80,314.5 237.10,310.1 237.40,313.4 237.70,311.2 238.00,314.0 238.30,313.3 238.60,311.2 238.90,312.8 239.20,311.7 239.50,310.4 239.80,312.0 240.10,314.6 240.40,314.3 240.70,313.7 241.00,314.6 241.30,315.5 241.60,314.6 241.90,314.4 242.20,310.2 242.50,314.1 242.80,313.3 243.10,313.4 243.40,314.0 243.70,315.5 244.00,313.4 244.30,315.5 244.60,313.2 244.90,314.9 245.20,315.5 245.50,314.6 245.80,315.5 246.10,315.5 246.40,311.5 246.70,314.4 247.00,312.8 247.30,314.8 247.60,313.9 247.90,315.5 248.20,313.9 248.50,313.7 248.80,314.9 249.10,311.2 249.40,314.8 249.70,312.4 250.00,315.5 250.30,314.1 250.60,315.5 250.90,314.9 251.20,314.0 251.50,314.5 251.80,313.4 252.10,313.4 252.40,314.3 252.70,312.7 253.00,313.2 253.30,311.8 253.60,313.2 253.90,315.0 254.20,313.7 254.50,313.9 254.80,314.3 255.10,312.5 255.40,310.9 255.70,313.0 256.00,313.0 256.30,313.5 256.60,314.7 256.90,314.7 257.20,313.0 257.50,314.3 257.80,315.5 258.10,315.5 258.40,315.5 258.70,313.9 259.00,311.5 259.30,312.3 259.60,315.3 259.90,311.7 260.20,314.4 260.50,313.3 260.80,314.2 261.10,314.8 261.40,315.5 261.70,313.3 262.00,315.3 262.30,315.5 262.60,313.5 262.90,315.5 263.20,314.8" fill="none" stroke="#e24a4a" stroke-width="0.9"/>
<polyline points="186.70,313.6 187.00,314.1 187.30,315.5 187.60,313.9 187.90,314.5 188.20,311.5 188.50,314.6 188.80,315.5 189.10,313.4 189.40,312.9 189.70,315.5 190.00,312.9 190.30,312.7 190.60,313.9 190.90,314.2 191.20,313.1 191.50,313.9 191.80,312.8 192.10,310.8 192.40,313.1 192.70,314.1 193.00,313.3 193.30,315.3 193.60,315.5 193.90,314.5 194.20,312.3 194.50,315.0 194.80,313.6 195.10,315.5 195.40,314.1 195.70,314.2 196.00,314.0 196.30,314.0 196.60,314.0 196.90,312.8 197.20,314.9 197.50,315.5 197.80,312.5 198.10,311.7 198.40,313.9 198.70,314.3 199.00,314.4 199.30,308.1 199.60,310.0 199.90,310.3 200.20,310.1 200.50,309.5 200.80,306.6 201.10,309.5 201.40,308.9 201.70,309.8 202.00,306.7 202.30,307.9 202.60,307.5 202.90,312.4 203.20,307.2 203.50,307.9 203.80,304.8 204.10,310.7 204.40,307.2 204.70,308.5 205.00,304.8 205.30,303.6 205.60,302.9 205.90,303.9 206.20,302.8 206.50,305.2 206.80,302.0 207.10,306.1 207.40,301.4 207.70,300.2 208.00,308.2 208.30,303.8 208.60,305.7 208.90,304.9 209.20,299.6 209.50,299.2 209.80,301.0 210.10,298.4 210.40,300.3 210.70,301.5 211.00,295.9 211.30,298.8 211.60,298.4 211.90,293.7 212.20,292.2 212.50,295.2 212.80,290.9 213.10,298.6 213.40,296.9 213.70,291.6 214.00,297.0 214.30,288.9 214.60,292.0 214.90,286.5 215.20,285.9 215.50,288.1 215.80,288.1 216.10,283.2 216.40,288.0 216.70,293.1 217.00,286.0 217.30,291.1 217.60,290.6 217.90,290.6 218.20,292.2 218.50,294.5 218.80,289.6 219.10,289.5 219.40,288.0 219.70,287.3 220.00,289.5 220.30,290.8 220.60,284.9 220.90,287.7 221.20,287.6 221.50,292.1 221.80,291.2 222.10,287.8 222.40,293.6 222.70,293.7 223.00,294.8 223.30,294.1 223.60,292.8 223.90,293.4 224.20,295.2 224.50,293.3 224.80,292.8 225.10,303.2 225.40,300.7 225.70,299.1 226.00,298.9 226.30,305.9 226.60,302.6 226.90,300.0 227.20,303.1 227.50,302.8 227.80,302.6 228.10,304.0 228.40,307.9 228.70,307.1 229.00,309.3 229.30,307.7 229.60,308.1 229.90,308.2 230.20,309.8 230.50,315.3 230.80,311.6 231.10,313.9 231.40,312.3 231.70,311.9 232.00,313.6 232.30,314.5 232.60,312.7 232.90,311.9 233.20,311.0 233.50,310.4 233.80,312.9 234.10,312.0 234.40,312.9 234.70,311.8 235.00,315.5 235.30,315.5 235.60,312.7 235.90,312.9 236.20,313.9 236.50,315.5 236.80,312.9 237.10,313.9 237.40,314.3 237.70,312.2 238.00,314.6 238.30,312.8 238.60,313.1 238.90,313.1 239.20,310.7 239.50,315.4 239.80,312.5 240.10,311.4 240.40,311.5 240.70,312.4 241.00,314.4 241.30,311.3 241.60,314.1 241.90,310.7 242.20,313.1 242.50,311.6 242.80,311.6 243.10,313.6 243.40,314.3 243.70,312.6 244.00,315.3 244.30,314.0 244.60,315.5 244.90,313.6 245.20,314.7 245.50,313.0 245.80,311.6 246.10,315.1 246.40,315.1 246.70,315.5 247.00,308.8 247.30,313.8 247.60,311.6 247.90,314.1 248.20,313.6 248.50,313.9 248.80,309.2 249.10,314.7 249.40,315.1 249.70,312.1 250.00,311.8 250.30,313.2 250.60,315.0 250.90,313.7 251.20,311.9 251.50,313.4 251.80,311.0 252.10,314.3 252.40,311.8 252.70,312.3 253.00,311.9 253.30,309.9 253.60,314.5 253.90,312.4 254.20,313.8 254.50,311.8 254.80,315.5 255.10,313.1 255.40,315.3 255.70,312.6 256.00,313.5 256.30,310.0 256.60,312.5 256.90,312.2 257.20,313.0 257.50,311.9 257.80,313.9 258.10,312.8 258.40,315.5 258.70,313.4 259.00,314.9 259.30,313.4 259.60,314.5 259.90,312.7 260.20,311.8 260.50,311.4 260.80,310.0 261.10,312.9 261.40,311.6 261.70,310.9 262.00,312.2 262.30,314.1 262.60,310.6 262.90,315.5 263.20,314.1" fill="none" stroke="#3fe23f" stroke-width="0.9"/>
<rect x="186.2" y="242.3" width="77.5" height="73.7" fill="none" stroke="#222" stroke-width="1.2"/>
<line x1="186.2" y1="243.3" x2="186.2" y2="316.0" stroke="#1a6a1a" stroke-width="1.1"/>
<line x1="184.7" y1="242.3" x2="186.2" y2="242.3" stroke="#333" stroke-width="0.8"/>
<line x1="184.7" y1="260.7" x2="186.2" y2="260.7" stroke="#333" stroke-width="0.8"/>
<line x1="184.7" y1="279.2" x2="186.2" y2="279.2" stroke="#333" stroke-width="0.8"/>
<line x1="184.7" y1="297.6" x2="186.2" y2="297.6" stroke="#333" stroke-width="0.8"/>
<line x1="184.7" y1="316.0" x2="186.2" y2="316.0" stroke="#333" stroke-width="0.8"/>
<text x="183.7" y="244.3" font-size="3.5" text-anchor="end" fill="#888" color="#888" style="stroke-width:0">&#8364;</text>
<text x="183.7" y="317.5" font-size="3.5" text-anchor="end" fill="#888" color="#888" style="stroke-width:0">0</text>
<text x="187.0" y="320.9" font-size="4.6" text-anchor="middle" fill="#8a8a8a" color="#8a8a8a" style="stroke-width:0.1">10&#8304;</text>
<text x="206.375" y="320.9" font-size="4.6" text-anchor="middle" fill="#8a8a8a" color="#8a8a8a" style="stroke-width:0.1">10&#185;</text>
<text x="225.75" y="320.9" font-size="4.6" text-anchor="middle" fill="#8a8a8a" color="#8a8a8a" style="stroke-width:0.1">10&#178;</text>
<text x="245.125" y="320.9" font-size="4.6" text-anchor="middle" fill="#8a8a8a" color="#8a8a8a" style="stroke-width:0.1">10&#179;</text>
<text x="264.5" y="320.9" font-size="4.6" text-anchor="middle" fill="#8a8a8a" color="#8a8a8a" style="stroke-width:0.1">10&#8308;</text>
<line x1="187.0" y1="331.8" x2="208.2" y2="331.8" stroke="#000" stroke-width="1.7"/>
<path d="M211.39999999999998 331.8 L207.2 330.0 L207.2 333.6 Z" fill="#000"/>
<text x="216.5" y="335.5" font-size="8" text-anchor="start" fill="#000" color="#000" >Cxcr2</text>
<rect x="290.4" y="242.3" width="25.5" height="73.7" fill="#c5c5c5"/>
<polyline points="290.90,312.9 291.20,312.9 291.50,312.9 291.80,307.7 292.10,315.5 292.40,315.5 292.70,310.3 293.00,310.3 293.30,312.9 293.60,312.9 293.90,312.9 294.20,312.9 294.50,315.5 294.80,307.7 295.10,307.7 295.40,315.5 295.70,315.5 296.00,315.5 296.30,312.9 296.60,312.9 296.90,312.9 297.20,312.9 297.50,312.9 297.80,312.9 298.10,312.9 298.40,307.7 298.70,307.7 299.00,307.7 299.30,307.7 299.60,312.9 299.90,307.7 300.20,307.7 300.50,307.7 300.80,307.7 301.10,307.7 301.40,307.7 301.70,307.7 302.00,307.7 302.30,307.7 302.60,307.7 302.90,307.7 303.20,307.7 303.50,307.7 303.80,307.7 304.10,315.5 304.40,315.5 304.70,315.5 305.00,315.5 305.30,307.7 305.60,307.7 305.90,312.9 306.20,312.9 306.50,312.9 306.80,312.9 307.10,310.3 307.40,310.3 307.70,310.3 308.00,307.7 308.30,307.7 308.60,307.7 308.90,312.9 309.20,312.9 309.50,312.9 309.80,307.7 310.10,307.7 310.40,307.7 310.70,305.1 311.00,305.1 311.30,305.1 311.60,312.9 311.90,312.9 312.20,312.9 312.50,299.9 312.80,299.9 313.10,299.9 313.40,299.9 313.70,302.5 314.00,302.5 314.30,299.9 314.60,299.9 314.90,299.9 315.20,299.9 315.50,299.9 315.80,315.5 316.10,315.5 316.40,315.5 316.70,299.9 317.00,299.9 317.30,299.9 317.60,299.9 317.90,299.9 318.20,299.9 318.50,299.9 318.80,299.9 319.10,299.9 319.40,299.9 319.70,299.9 320.00,299.9 320.30,292.1 320.60,292.1 320.90,292.1 321.20,302.5 321.50,302.5 321.80,289.5 322.10,286.9 322.40,286.9 322.70,292.1 323.00,292.1 323.30,284.3 323.60,284.3 323.90,284.3 324.20,284.3 324.50,279.1 324.80,279.1 325.10,279.1 325.40,276.5 325.70,276.5 326.00,276.5 326.30,294.7 326.60,302.5 326.90,302.5 327.20,302.5 327.50,297.3 327.80,297.3 328.10,302.5 328.40,302.5 328.70,302.5 329.00,302.5 329.30,271.3 329.60,271.3 329.90,271.3 330.20,268.7 330.50,268.7 330.80,263.5 331.10,273.9 331.40,273.9 331.70,273.9 332.00,266.1 332.30,266.1 332.60,266.1 332.90,266.1 333.20,305.1 333.50,297.3 333.80,297.3 334.10,297.3 334.40,297.3 334.70,268.7 335.00,268.7 335.30,268.7 335.60,266.1 335.90,273.9 336.20,273.9 336.50,273.9 336.80,273.9 337.10,284.3 337.40,284.3 337.70,286.5 338.00,294.7 338.30,294.7 338.60,294.7 338.90,294.7 339.20,294.7 339.50,297.3 339.80,297.3 340.10,297.3 340.40,307.7 340.70,307.7 341.00,307.7 341.30,307.7 341.60,310.3 341.90,310.3 342.20,310.3 342.50,302.5 342.80,302.7 343.10,305.1 343.40,305.1 343.70,305.1 344.00,305.1 344.30,305.1 344.60,312.9 344.90,312.9 345.20,312.9 345.50,312.9 345.80,307.7 346.10,307.7 346.40,307.7 346.70,307.7 347.00,307.7 347.30,307.7 347.60,307.7 347.90,307.7 348.20,307.7 348.50,307.7 348.80,307.7 349.10,312.9 349.40,312.9 349.70,312.9 350.00,312.9 350.30,312.9 350.60,312.9 350.90,312.9 351.20,307.7 351.50,307.7 351.80,315.5 352.10,315.5 352.40,315.5 352.70,312.9 353.00,312.9 353.30,307.7 353.60,307.7 353.90,307.7 354.20,307.7 354.50,307.7 354.80,307.7 355.10,307.7 355.40,307.7 355.70,307.7 356.00,312.9 356.30,312.9 356.60,312.9 356.90,307.7 357.20,307.7 357.50,307.7 357.80,307.7 358.10,315.5 358.40,312.9 358.70,315.5 359.00,310.3 359.30,310.3 359.60,310.3 359.90,307.7 360.20,307.7 360.50,307.7 360.80,307.7 361.10,307.7 361.40,307.7 361.70,307.7 362.00,307.7 362.30,307.7 362.60,307.7 362.90,312.9 363.20,312.9 363.50,312.9 363.80,312.9 364.10,315.5 364.40,315.5 364.70,315.5 365.00,312.9 365.30,312.9 365.60,312.9 365.90,307.7 366.20,307.7 366.50,307.7 366.80,307.7 367.10,315.5 367.40,315.5" fill="none" stroke="#3fe23f" stroke-width="0.9"/>
<polyline points="290.90,315.5 291.20,315.5 291.50,315.5 291.80,315.5 292.10,307.7 292.40,307.7 292.70,312.9 293.00,312.9 293.30,312.9 293.60,312.9 293.90,312.9 294.20,307.7 294.50,307.7 294.80,312.9 295.10,312.9 295.40,312.9 295.70,310.3 296.00,312.9 296.30,312.9 296.60,312.9 296.90,310.3 297.20,310.3 297.50,310.3 297.80,310.3 298.10,315.5 298.40,315.5 298.70,307.7 299.00,307.7 299.30,307.7 299.60,307.7 299.90,307.7 300.20,307.7 300.50,307.7 300.80,307.7 301.10,307.7 301.40,307.7 301.70,307.7 302.00,307.7 302.30,307.7 302.60,307.7 302.90,307.7 303.20,310.3 303.50,310.3 303.80,310.3 304.10,310.3 304.40,310.3 304.70,310.3 305.00,315.5 305.30,315.5 305.60,315.5 305.90,312.9 306.20,312.9 306.50,312.9 306.80,312.9 307.10,312.9 307.40,312.9 307.70,310.3 308.00,310.3 308.30,310.3 308.60,312.9 308.90,312.9 309.20,312.9 309.50,312.9 309.80,307.7 310.10,307.7 310.40,307.7 310.70,307.7 311.00,307.7 311.30,307.7 311.60,307.7 311.90,307.7 312.20,307.7 312.50,312.9 312.80,307.7 313.10,307.7 313.40,315.5 313.70,315.5 314.00,312.9 314.30,312.9 314.60,312.9 314.90,312.9 315.20,312.9 315.50,310.3 315.80,310.3 316.10,310.3 316.40,310.3 316.70,307.7 317.00,307.7 317.30,307.7 317.60,307.7 317.90,307.7 318.20,307.7 318.50,307.7 318.80,315.5 319.10,315.5 319.40,312.9 319.70,312.9 320.00,312.9 320.30,312.9 320.60,312.9 320.90,315.5 321.20,315.5 321.50,307.7 321.80,307.7 322.10,312.9 322.40,312.9 322.70,312.9 323.00,307.7 323.30,307.7 323.60,307.7 323.90,307.7 324.20,302.5 324.50,302.5 324.80,302.5 325.10,302.5 325.40,315.5 325.70,315.5 326.00,315.5 326.30,315.5 326.60,312.9 326.90,312.9 327.20,312.9 327.50,297.3 327.80,297.3 328.10,297.3 328.40,297.3 328.70,297.3 329.00,297.3 329.30,310.3 329.60,310.3 329.90,310.3 330.20,310.3 330.50,292.1 330.80,292.1 331.10,289.5 331.40,289.5 331.70,289.5 332.00,289.5 332.30,281.7 332.60,281.7 332.90,281.7 333.20,281.7 333.50,292.1 333.80,292.1 334.10,292.1 334.40,289.5 334.70,289.5 335.00,289.5 335.30,289.5 335.60,292.1 335.90,292.1 336.20,292.1 336.50,292.1 336.80,297.3 337.10,299.9 337.40,299.9 337.70,299.9 338.00,299.9 338.30,310.3 338.60,310.3 338.90,302.5 339.20,302.5 339.50,302.5 339.80,302.5 340.10,302.6 340.40,302.8 340.70,307.7 341.00,307.7 341.30,307.7 341.60,307.7 341.90,307.7 342.20,310.3 342.50,310.3 342.80,310.3 343.10,312.9 343.40,312.9 343.70,315.5 344.00,315.5 344.30,315.5 344.60,307.7 344.90,307.7 345.20,307.7 345.50,307.7 345.80,307.7 346.10,307.7 346.40,307.7 346.70,307.7 347.00,310.3 347.30,310.3 347.60,312.9 347.90,312.9 348.20,312.9 348.50,312.9 348.80,312.9 349.10,315.5 349.40,315.5 349.70,315.5 350.00,310.3 350.30,310.3 350.60,310.3 350.90,310.3 351.20,310.3 351.50,310.3 351.80,310.3 352.10,312.9 352.40,310.3 352.70,310.3 353.00,310.3 353.30,312.9 353.60,312.9 353.90,312.9 354.20,312.9 354.50,312.9 354.80,312.9 355.10,312.9 355.40,310.3 355.70,310.3 356.00,310.3 356.30,310.3 356.60,312.9 356.90,312.9 357.20,312.9 357.50,312.9 357.80,315.5 358.10,315.5 358.40,315.5 358.70,315.5 359.00,310.3 359.30,310.3 359.60,310.3 359.90,310.3 360.20,312.9 360.50,312.9 360.80,312.9 361.10,307.7 361.40,312.9 361.70,312.9 362.00,312.9 362.30,312.9 362.60,312.9 362.90,312.9 363.20,307.7 363.50,307.7 363.80,307.7 364.10,307.7 364.40,307.7 364.70,307.7 365.00,310.3 365.30,310.3 365.60,310.3 365.90,310.3 366.20,307.7 366.50,307.7 366.80,312.9 367.10,312.9 367.40,312.9" fill="none" stroke="#e24a4a" stroke-width="0.9"/>
<rect x="290.4" y="242.3" width="77.5" height="73.7" fill="none" stroke="#222" stroke-width="1.2"/>
<line x1="290.4" y1="243.3" x2="290.4" y2="316.0" stroke="#1a6a1a" stroke-width="1.1"/>
<line x1="288.9" y1="242.3" x2="290.4" y2="242.3" stroke="#333" stroke-width="0.8"/>
<line x1="288.9" y1="260.7" x2="290.4" y2="260.7" stroke="#333" stroke-width="0.8"/>
<line x1="288.9" y1="279.2" x2="290.4" y2="279.2" stroke="#333" stroke-width="0.8"/>
<line x1="288.9" y1="297.6" x2="290.4" y2="297.6" stroke="#333" stroke-width="0.8"/>
<line x1="288.9" y1="316.0" x2="290.4" y2="316.0" stroke="#333" stroke-width="0.8"/>
<text x="287.9" y="244.3" font-size="3.5" text-anchor="end" fill="#888" color="#888" style="stroke-width:0">&#8364;</text>
<text x="287.9" y="317.5" font-size="3.5" text-anchor="end" fill="#888" color="#888" style="stroke-width:0">0</text>
<text x="291.2" y="320.9" font-size="4.6" text-anchor="middle" fill="#8a8a8a" color="#8a8a8a" style="stroke-width:0.1">10&#8304;</text>
<text x="310.575" y="320.9" font-size="4.6" text-anchor="middle" fill="#8a8a8a" color="#8a8a8a" style="stroke-width:0.1">10&#185;</text>
<text x="329.95" y="320.9" font-size="4.6" text-anchor="middle" fill="#8a8a8a" color="#8a8a8a" style="stroke-width:0.1">10&#178;</text>
<text x="349.325" y="320.9" font-size="4.6" text-anchor="middle" fill="#8a8a8a" color="#8a8a8a" style="stroke-width:0.1">10&#179;</text>
<text x="368.7" y="320.9" font-size="4.6" text-anchor="middle" fill="#8a8a8a" color="#8a8a8a" style="stroke-width:0.1">10&#8308;</text>
<line x1="291.2" y1="331.8" x2="312.4" y2="331.8" stroke="#000" stroke-width="1.7"/>
<path d="M315.59999999999997 331.8 L311.4 330.0 L311.4 333.6 Z" fill="#000"/>
<text x="320.7" y="335.5" font-size="8" text-anchor="start" fill="#000" color="#000" >Cxcr4</text>
<rect x="383.6" y="242.3" width="25.0" height="73.7" fill="#c5c5c5"/>
<polyline points="384.10,312.9 384.40,312.9 384.70,307.7 385.00,307.7 385.30,307.7 385.60,315.5 385.90,315.5 386.20,312.9 386.50,312.9 386.80,312.9 387.10,312.9 387.40,312.9 387.70,312.9 388.00,312.9 388.30,312.9 388.60,307.7 388.90,310.3 389.20,310.3 389.50,310.3 389.80,307.7 390.10,315.5 390.40,315.5 390.70,307.7 391.00,312.9 391.30,312.9 391.60,307.7 391.90,307.7 392.20,312.9 392.50,312.9 392.80,315.5 393.10,315.5 393.40,312.9 393.70,312.9 394.00,312.9 394.30,312.9 394.60,315.5 394.90,315.5 395.20,315.5 395.50,312.9 395.80,312.9 396.10,312.9 396.40,312.9 396.70,307.7 397.00,307.7 397.30,307.7 397.60,307.7 397.90,312.9 398.20,312.9 398.50,312.9 398.80,307.7 399.10,307.7 399.40,307.7 399.70,312.9 400.00,310.3 400.30,310.3 400.60,310.3 400.90,312.9 401.20,312.9 401.50,312.9 401.80,315.5 402.10,315.5 402.40,315.5 402.70,315.5 403.00,310.3 403.30,315.5 403.60,315.5 403.90,307.7 404.20,315.5 404.50,315.5 404.80,307.7 405.10,307.7 405.40,312.9 405.70,312.9 406.00,310.3 406.30,310.3 406.60,312.9 406.90,312.9 407.20,312.9 407.50,307.7 407.80,307.7 408.10,307.7 408.40,307.7 408.70,307.7 409.00,307.7 409.30,312.9 409.60,312.9 409.90,312.9 410.20,312.9 410.50,312.9 410.80,312.9 411.10,315.5 411.40,315.5 411.70,305.1 412.00,305.1 412.30,302.5 412.60,302.5 412.90,302.5 413.20,299.9 413.50,302.5 413.80,312.9 414.10,312.9 414.40,312.9 414.70,294.7 415.00,294.7 415.30,294.7 415.60,294.7 415.90,294.7 416.20,294.7 416.50,294.7 416.80,294.7 417.10,302.5 417.40,302.5 417.70,302.5 418.00,302.5 418.30,292.1 418.60,292.1 418.90,292.1 419.20,284.3 419.50,284.3 419.80,284.3 420.10,279.1 420.40,281.7 420.70,281.7 421.00,281.7 421.30,281.7 421.60,312.9 421.90,279.1 422.20,279.1 422.50,279.1 422.80,279.1 423.10,279.1 423.40,279.1 423.70,279.1 424.00,279.1 424.30,307.7 424.60,307.7 424.90,302.5 425.20,302.5 425.50,276.5 425.80,276.5 426.10,276.5 426.40,276.5 426.70,268.7 427.00,268.7 427.30,268.7 427.60,297.3 427.90,297.3 428.20,260.9 428.50,260.9 428.80,247.9 429.10,247.9 429.40,258.3 429.70,289.5 430.00,289.5 430.30,271.3 430.60,302.5 430.90,276.5 431.20,279.1 431.50,279.1 431.80,279.1 432.10,279.1 432.40,279.1 432.70,281.7 433.00,281.7 433.30,281.7 433.60,279.1 433.90,279.1 434.20,305.1 434.50,289.5 434.80,289.5 435.10,312.9 435.40,312.9 435.70,315.5 436.00,315.5 436.30,315.5 436.60,312.9 436.90,312.9 437.20,312.9 437.50,307.7 437.80,297.3 438.10,297.3 438.40,297.3 438.70,299.9 439.00,299.9 439.30,299.9 439.60,299.9 439.90,310.3 440.20,310.3 440.50,299.9 440.80,299.9 441.10,307.7 441.40,307.7 441.70,307.7 442.00,299.9 442.30,299.9 442.60,299.9 442.90,299.9 443.20,302.5 443.50,302.5 443.80,302.5 444.10,302.5 444.40,310.3 444.70,307.7 445.00,307.7 445.30,307.7 445.60,305.1 445.90,305.1 446.20,305.1 446.50,307.7 446.80,307.7 447.10,307.7 447.40,315.5 447.70,315.5 448.00,315.5 448.30,312.9 448.60,312.9 448.90,312.9 449.20,312.9 449.50,312.9 449.80,312.9 450.10,312.9 450.40,312.9 450.70,312.9 451.00,312.9 451.30,312.9 451.60,312.9 451.90,312.9 452.20,310.3 452.50,310.3 452.80,312.9 453.10,312.9 453.40,312.9 453.70,312.9 454.00,310.3 454.30,310.3 454.60,310.3 454.90,310.3 455.20,310.3 455.50,315.5 455.80,315.5 456.10,315.5 456.40,315.5 456.70,315.5 457.00,315.5 457.30,315.5 457.60,312.9 457.90,312.9 458.20,312.9 458.50,312.9 458.80,312.9 459.10,312.9 459.40,312.9 459.70,312.9 460.00,315.5 460.30,315.5 460.60,315.5" fill="none" stroke="#3fe23f" stroke-width="0.9"/>
<polyline points="384.10,307.7 384.40,307.7 384.70,312.9 385.00,312.9 385.30,307.7 385.60,307.7 385.90,307.7 386.20,307.7 386.50,307.7 386.80,307.7 387.10,312.9 387.40,312.9 387.70,312.9 388.00,312.9 388.30,315.5 388.60,315.5 388.90,307.7 389.20,307.7 389.50,315.5 389.80,315.5 390.10,307.7 390.40,307.7 390.70,312.9 391.00,312.9 391.30,312.9 391.60,312.9 391.90,312.9 392.20,312.9 392.50,307.7 392.80,307.7 393.10,307.7 393.40,307.7 393.70,312.9 394.00,312.9 394.30,307.7 394.60,307.7 394.90,307.7 395.20,307.7 395.50,307.7 395.80,307.7 396.10,307.7 396.40,310.3 396.70,310.3 397.00,307.7 397.30,307.7 397.60,307.7 397.90,307.7 398.20,312.9 398.50,312.9 398.80,312.9 399.10,310.3 399.40,310.3 399.70,310.3 400.00,312.9 400.30,312.9 400.60,310.3 400.90,312.9 401.20,312.9 401.50,312.9 401.80,307.7 402.10,307.7 402.40,307.7 402.70,307.7 403.00,315.5 403.30,315.5 403.60,315.5 403.90,310.3 404.20,312.9 404.50,312.9 404.80,312.9 405.10,312.9 405.40,312.9 405.70,312.9 406.00,312.9 406.30,312.9 406.60,312.9 406.90,310.3 407.20,310.3 407.50,310.3 407.80,310.3 408.10,307.7 408.40,312.9 408.70,312.9 409.00,312.9 409.30,312.9 409.60,310.3 409.90,310.3 410.20,310.3 410.50,310.3 410.80,307.7 411.10,307.7 411.40,310.3 411.70,312.9 412.00,312.9 412.30,312.9 412.60,307.7 412.90,307.7 413.20,307.7 413.50,315.5 413.80,312.9 414.10,312.9 414.40,312.9 414.70,312.9 415.00,312.9 415.30,312.9 415.60,312.9 415.90,312.9 416.20,312.9 416.50,307.7 416.80,307.7 417.10,307.7 417.40,307.7 417.70,307.7 418.00,307.7 418.30,305.1 418.60,312.9 418.90,312.9 419.20,312.9 419.50,302.5 419.80,305.1 420.10,305.1 420.40,302.5 420.70,302.5 421.00,299.9 421.30,299.9 421.60,297.3 421.90,299.9 422.20,299.9 422.50,305.1 422.80,305.1 423.10,294.7 423.40,294.7 423.70,292.1 424.00,292.1 424.30,289.5 424.60,289.5 424.90,289.5 425.20,289.5 425.50,289.5 425.80,312.9 426.10,312.9 426.40,289.5 426.70,289.5 427.00,289.5 427.30,281.7 427.60,281.7 427.90,281.7 428.20,281.7 428.50,292.1 428.80,292.1 429.10,292.1 429.40,312.9 429.70,312.9 430.00,312.9 430.30,294.7 430.60,294.7 430.90,294.7 431.20,294.7 431.50,297.3 431.80,297.3 432.10,297.3 432.40,307.7 432.70,299.9 433.00,299.9 433.30,299.9 433.60,310.3 433.90,310.3 434.20,302.5 434.50,302.5 434.80,302.5 435.10,310.3 435.40,310.3 435.70,310.3 436.00,310.3 436.30,302.5 436.60,310.3 436.90,305.1 437.20,305.1 437.50,305.1 437.80,310.3 438.10,305.1 438.40,305.1 438.70,307.7 439.00,307.7 439.30,307.7 439.60,307.7 439.90,307.7 440.20,307.7 440.50,307.7 440.80,307.7 441.10,310.3 441.40,310.3 441.70,310.3 442.00,310.3 442.30,315.5 442.60,315.5 442.90,315.5 443.20,312.9 443.50,312.9 443.80,312.9 444.10,312.9 444.40,310.3 444.70,310.3 445.00,310.3 445.30,310.3 445.60,315.5 445.90,315.5 446.20,312.9 446.50,312.9 446.80,312.9 447.10,310.3 447.40,310.3 447.70,310.3 448.00,312.9 448.30,307.7 448.60,307.7 448.90,307.7 449.20,310.3 449.50,307.7 449.80,307.7 450.10,315.5 450.40,315.5 450.70,315.5 451.00,315.5 451.30,307.7 451.60,307.7 451.90,307.7 452.20,310.3 452.50,310.3 452.80,310.3 453.10,312.9 453.40,312.9 453.70,315.5 454.00,315.5 454.30,315.5 454.60,307.7 454.90,307.7 455.20,307.7 455.50,307.7 455.80,310.3 456.10,310.3 456.40,310.3 456.70,310.3 457.00,310.3 457.30,312.9 457.60,312.9 457.90,312.9 458.20,312.9 458.50,312.9 458.80,312.9 459.10,312.9 459.40,310.3 459.70,310.3 460.00,307.7 460.30,307.7 460.60,310.3" fill="none" stroke="#e24a4a" stroke-width="0.9"/>
<rect x="383.6" y="242.3" width="77.5" height="73.7" fill="none" stroke="#222" stroke-width="1.2"/>
<line x1="383.6" y1="243.3" x2="383.6" y2="316.0" stroke="#1a6a1a" stroke-width="1.1"/>
<line x1="382.1" y1="242.3" x2="383.6" y2="242.3" stroke="#333" stroke-width="0.8"/>
<line x1="382.1" y1="260.7" x2="383.6" y2="260.7" stroke="#333" stroke-width="0.8"/>
<line x1="382.1" y1="279.2" x2="383.6" y2="279.2" stroke="#333" stroke-width="0.8"/>
<line x1="382.1" y1="297.6" x2="383.6" y2="297.6" stroke="#333" stroke-width="0.8"/>
<line x1="382.1" y1="316.0" x2="383.6" y2="316.0" stroke="#333" stroke-width="0.8"/>
<text x="381.1" y="244.3" font-size="3.5" text-anchor="end" fill="#888" color="#888" style="stroke-width:0">&#8364;</text>
<text x="381.1" y="317.5" font-size="3.5" text-anchor="end" fill="#888" color="#888" style="stroke-width:0">0</text>
<text x="384.40000000000003" y="320.9" font-size="4.6" text-anchor="middle" fill="#8a8a8a" color="#8a8a8a" style="stroke-width:0.1">10&#8304;</text>
<text x="403.77500000000003" y="320.9" font-size="4.6" text-anchor="middle" fill="#8a8a8a" color="#8a8a8a" style="stroke-width:0.1">10&#185;</text>
<text x="423.15000000000003" y="320.9" font-size="4.6" text-anchor="middle" fill="#8a8a8a" color="#8a8a8a" style="stroke-width:0.1">10&#178;</text>
<text x="442.52500000000003" y="320.9" font-size="4.6" text-anchor="middle" fill="#8a8a8a" color="#8a8a8a" style="stroke-width:0.1">10&#179;</text>
<text x="461.90000000000003" y="320.9" font-size="4.6" text-anchor="middle" fill="#8a8a8a" color="#8a8a8a" style="stroke-width:0.1">10&#8308;</text>
<line x1="384.40000000000003" y1="331.8" x2="405.6" y2="331.8" stroke="#000" stroke-width="1.7"/>
<path d="M408.8 331.8 L404.6 330.0 L404.6 333.6 Z" fill="#000"/>
<text x="413.90000000000003" y="335.5" font-size="8" text-anchor="start" fill="#000" color="#000" >Cxcr5</text>
<line x1="128.2" y1="26.5" x2="140.7" y2="26.5" stroke="#46d07a" stroke-width="1.2"/>
<text x="144.5" y="29.4" font-size="7" text-anchor="start" fill="#2a9a3a" color="#2a9a3a" >WT</text>
<line x1="128.2" y1="35.6" x2="140.7" y2="35.6" stroke="#e08a8a" stroke-width="1.2"/>
<text x="145.3" y="38.8" font-size="7" text-anchor="start" fill="#c84848" color="#c84848" >+/1013</text>
<text x="4.6" y="357.4" font-size="23" text-anchor="start" fill="#000" color="#000" style="stroke-width:0">B</text>
<rect x="44" y="358.6" width="186.6" height="109.89999999999998" fill="none" stroke="#333" stroke-width="1.5"/>
<line x1="41" y1="468.5" x2="44" y2="468.5" stroke="#222" stroke-width="1"/>
<text x="39.8" y="471.38" font-size="8" text-anchor="end" fill="#000" color="#000" >0</text>
<line x1="41" y1="424.9" x2="44" y2="424.9" stroke="#222" stroke-width="1"/>
<text x="39.8" y="427.78" font-size="8" text-anchor="end" fill="#000" color="#000" >20</text>
<line x1="41" y1="381.3" x2="44" y2="381.3" stroke="#222" stroke-width="1"/>
<text x="39.8" y="384.18" font-size="8" text-anchor="end" fill="#000" color="#000" >40</text>
<line x1="42.2" y1="446.7" x2="44" y2="446.7" stroke="#222" stroke-width="1"/>
<line x1="42.2" y1="403.1" x2="44" y2="403.1" stroke="#222" stroke-width="1"/>
<line x1="148.7" y1="345" x2="148.7" y2="482" stroke="#333" stroke-width="1" stroke-dasharray="1,1"/>
<text x="87" y="355.4" font-size="11" text-anchor="start" fill="#000" color="#000" >CD3</text>
<text x="180" y="355.3" font-size="11" text-anchor="start" fill="#000" color="#000" >CD19</text>
<line x1="51.2" y1="460.2" x2="51.2" y2="463.2" stroke="#111" stroke-width="1.2"/>
<line x1="48.6" y1="460.2" x2="53.8" y2="460.2" stroke="#111" stroke-width="1.2"/>
<rect x="46.8" y="463.2" width="8.8" height="5.3" fill="#fff" stroke="#111" stroke-width="1.2"/>
<line x1="61.2" y1="440.7" x2="61.2" y2="448.4" stroke="#111" stroke-width="1.2"/>
<line x1="58.6" y1="440.7" x2="63.8" y2="440.7" stroke="#111" stroke-width="1.2"/>
<rect x="56.2" y="448.4" width="10" height="20.1" fill="#000"/>
<line x1="75.5" y1="431.5" x2="75.5" y2="434" stroke="#111" stroke-width="1.2"/>
<line x1="72.9" y1="431.5" x2="78.1" y2="431.5" stroke="#111" stroke-width="1.2"/>
<rect x="71.1" y="434" width="8.8" height="34.5" fill="#fff" stroke="#111" stroke-width="1.2"/>
<line x1="85.5" y1="363.3" x2="85.5" y2="378.2" stroke="#111" stroke-width="1.2"/>
<line x1="82.9" y1="363.3" x2="88.1" y2="363.3" stroke="#111" stroke-width="1.2"/>
<rect x="80.5" y="378.2" width="10" height="90.3" fill="#000"/>
<line x1="100.1" y1="392.4" x2="100.1" y2="398.3" stroke="#111" stroke-width="1.2"/>
<line x1="97.5" y1="392.4" x2="102.7" y2="392.4" stroke="#111" stroke-width="1.2"/>
<rect x="95.7" y="398.3" width="8.8" height="70.2" fill="#fff" stroke="#111" stroke-width="1.2"/>
<line x1="110.1" y1="379.9" x2="110.1" y2="395.8" stroke="#111" stroke-width="1.2"/>
<line x1="107.5" y1="379.9" x2="112.7" y2="379.9" stroke="#111" stroke-width="1.2"/>
<rect x="105.1" y="395.8" width="10" height="72.7" fill="#000"/>
<line x1="124.3" y1="403.7" x2="124.3" y2="410.2" stroke="#111" stroke-width="1.2"/>
<line x1="121.7" y1="403.7" x2="126.9" y2="403.7" stroke="#111" stroke-width="1.2"/>
<rect x="119.9" y="410.2" width="8.8" height="58.3" fill="#fff" stroke="#111" stroke-width="1.2"/>
<line x1="134.3" y1="406.4" x2="134.3" y2="410.9" stroke="#111" stroke-width="1.2"/>
<line x1="131.7" y1="406.4" x2="136.9" y2="406.4" stroke="#111" stroke-width="1.2"/>
<rect x="129.3" y="410.9" width="10" height="57.6" fill="#000"/>
<line x1="164.2" y1="420.4" x2="164.2" y2="423.3" stroke="#111" stroke-width="1.2"/>
<line x1="161.6" y1="420.4" x2="166.8" y2="420.4" stroke="#111" stroke-width="1.2"/>
<rect x="159.8" y="423.3" width="8.8" height="45.2" fill="#fff" stroke="#111" stroke-width="1.2"/>
<line x1="174.2" y1="380.1" x2="174.2" y2="384.8" stroke="#111" stroke-width="1.2"/>
<line x1="171.6" y1="380.1" x2="176.8" y2="380.1" stroke="#111" stroke-width="1.2"/>
<rect x="169.2" y="384.8" width="10" height="83.7" fill="#000"/>
<line x1="188.4" y1="416.9" x2="188.4" y2="425.4" stroke="#111" stroke-width="1.2"/>
<line x1="185.8" y1="416.9" x2="191.0" y2="416.9" stroke="#111" stroke-width="1.2"/>
<rect x="184.0" y="425.4" width="8.8" height="43.1" fill="#fff" stroke="#111" stroke-width="1.2"/>
<line x1="198.4" y1="431.1" x2="198.4" y2="434.2" stroke="#111" stroke-width="1.2"/>
<line x1="195.8" y1="431.1" x2="201.0" y2="431.1" stroke="#111" stroke-width="1.2"/>
<rect x="193.4" y="434.2" width="10" height="34.3" fill="#000"/>
<line x1="213.5" y1="387.9" x2="213.5" y2="404.7" stroke="#111" stroke-width="1.2"/>
<line x1="210.9" y1="387.9" x2="216.1" y2="387.9" stroke="#111" stroke-width="1.2"/>
<rect x="209.1" y="404.7" width="8.8" height="63.8" fill="#fff" stroke="#111" stroke-width="1.2"/>
<line x1="223.5" y1="401.7" x2="223.5" y2="410" stroke="#111" stroke-width="1.2"/>
<line x1="220.9" y1="401.7" x2="226.1" y2="401.7" stroke="#111" stroke-width="1.2"/>
<rect x="218.5" y="410" width="10" height="58.5" fill="#000"/>
<text x="55.8" y="478.5" font-size="8.6" text-anchor="middle" fill="#000" color="#000" >1</text>
<text x="79.8" y="478.5" font-size="8.6" text-anchor="middle" fill="#000" color="#000" >10</text>
<text x="104.4" y="478.5" font-size="8.6" text-anchor="middle" fill="#000" color="#000" >50</text>
<text x="128.1" y="478.5" font-size="8.6" text-anchor="middle" fill="#000" color="#000" >100</text>
<text x="168.4" y="478.5" font-size="8.6" text-anchor="middle" fill="#000" color="#000" >10</text>
<text x="192.9" y="478.5" font-size="8.6" text-anchor="middle" fill="#000" color="#000" >100</text>
<text x="217.6" y="478.5" font-size="8.6" text-anchor="middle" fill="#000" color="#000" >500</text>
<line x1="53" y1="482.3" x2="134.6" y2="482.3" stroke="#000" stroke-width="1.4"/>
<line x1="161.1" y1="482.3" x2="174.6" y2="482.3" stroke="#000" stroke-width="1.4"/>
<line x1="187" y1="482.3" x2="224" y2="482.3" stroke="#000" stroke-width="1.4"/>
<text x="70.8" y="493.7" font-size="11" text-anchor="start" fill="#000" color="#000" >+ Cxcl12</text>
<text transform="translate(174.5 489) rotate(-50)" font-size="11.2" text-anchor="end">+ Cxcl12</text>
<text transform="translate(210.5 489) rotate(-50)" font-size="11.2" text-anchor="end">+ Cxcl13</text>
<text transform="translate(10.1 412.6) rotate(-90)" font-size="10.7" text-anchor="middle">% of input</text>
<text transform="translate(22 412.6) rotate(-90)" font-size="10.6" text-anchor="middle">blood leukocytes</text>
<rect x="281.6" y="359" width="186.29999999999995" height="109.60000000000002" fill="none" stroke="#333" stroke-width="1.5"/>
<line x1="278.6" y1="468.6" x2="281.6" y2="468.6" stroke="#222" stroke-width="1"/>
<text x="277.5" y="471.48" font-size="8" text-anchor="end" fill="#000" color="#000" >0</text>
<line x1="278.6" y1="424.8" x2="281.6" y2="424.8" stroke="#222" stroke-width="1"/>
<text x="277.5" y="427.68" font-size="8" text-anchor="end" fill="#000" color="#000" >20</text>
<line x1="278.6" y1="381.0" x2="281.6" y2="381.0" stroke="#222" stroke-width="1"/>
<text x="277.5" y="383.88" font-size="8" text-anchor="end" fill="#000" color="#000" >40</text>
<line x1="279.8" y1="446.7" x2="281.6" y2="446.7" stroke="#222" stroke-width="1"/>
<line x1="279.8" y1="402.9" x2="281.6" y2="402.9" stroke="#222" stroke-width="1"/>
<line x1="374.8" y1="344" x2="374.8" y2="482" stroke="#333" stroke-width="1" stroke-dasharray="1,1"/>
<line x1="289.8" y1="455.4" x2="289.8" y2="457.3" stroke="#111" stroke-width="1.2"/>
<line x1="286.7" y1="455.4" x2="292.9" y2="455.4" stroke="#111" stroke-width="1.2"/>
<rect x="284.8" y="457.3" width="10.0" height="11.3" fill="#fff" stroke="#111" stroke-width="1.2"/>
<line x1="301.1" y1="420.8" x2="301.1" y2="425.2" stroke="#111" stroke-width="1.2"/>
<line x1="298.0" y1="420.8" x2="304.2" y2="420.8" stroke="#111" stroke-width="1.2"/>
<rect x="295.4" y="425.2" width="11.5" height="43.4" fill="#000"/>
<line x1="317.9" y1="442.9" x2="317.9" y2="443.8" stroke="#111" stroke-width="1.2"/>
<line x1="314.8" y1="442.9" x2="321.0" y2="442.9" stroke="#111" stroke-width="1.2"/>
<rect x="312.9" y="443.8" width="10.0" height="24.8" fill="#fff" stroke="#111" stroke-width="1.2"/>
<line x1="329.2" y1="430.6" x2="329.2" y2="437.7" stroke="#111" stroke-width="1.2"/>
<line x1="326.1" y1="430.6" x2="332.4" y2="430.6" stroke="#111" stroke-width="1.2"/>
<rect x="323.5" y="437.7" width="11.5" height="30.9" fill="#000"/>
<line x1="346.2" y1="464.6" x2="346.2" y2="465.6" stroke="#111" stroke-width="1.2"/>
<line x1="343.1" y1="464.6" x2="349.3" y2="464.6" stroke="#111" stroke-width="1.2"/>
<rect x="341.2" y="465.6" width="10.0" height="3.0" fill="#fff" stroke="#111" stroke-width="1.2"/>
<rect x="351.8" y="466.9" width="11.5" height="1.7" fill="#000"/>
<line x1="391.1" y1="442.5" x2="391.1" y2="445.4" stroke="#111" stroke-width="1.2"/>
<line x1="387.9" y1="442.5" x2="394.3" y2="442.5" stroke="#111" stroke-width="1.2"/>
<rect x="386.0" y="445.4" width="10.2" height="23.2" fill="#fff" stroke="#111" stroke-width="1.2"/>
<line x1="402.7" y1="376.5" x2="402.7" y2="385.4" stroke="#111" stroke-width="1.2"/>
<line x1="399.5" y1="376.5" x2="405.9" y2="376.5" stroke="#111" stroke-width="1.2"/>
<rect x="396.79999999999995" y="385.4" width="11.8" height="83.2" fill="#000"/>
<line x1="419.0" y1="371.7" x2="419.0" y2="381" stroke="#111" stroke-width="1.2"/>
<line x1="415.8" y1="371.7" x2="422.2" y2="371.7" stroke="#111" stroke-width="1.2"/>
<rect x="413.9" y="381" width="10.2" height="87.6" fill="#fff" stroke="#111" stroke-width="1.2"/>
<line x1="430.6" y1="367.9" x2="430.6" y2="376.5" stroke="#111" stroke-width="1.2"/>
<line x1="427.4" y1="367.9" x2="433.8" y2="367.9" stroke="#111" stroke-width="1.2"/>
<rect x="424.7" y="376.5" width="11.8" height="92.1" fill="#000"/>
<line x1="447.2" y1="465.2" x2="447.2" y2="466.2" stroke="#111" stroke-width="1.2"/>
<line x1="444.0" y1="465.2" x2="450.4" y2="465.2" stroke="#111" stroke-width="1.2"/>
<rect x="442.1" y="466.2" width="10.2" height="2.4" fill="#fff" stroke="#111" stroke-width="1.2"/>
<rect x="452.9" y="467.5" width="11.8" height="1.1" fill="#000"/>
<text x="319" y="355.8" font-size="11" text-anchor="start" fill="#000" color="#000" >DP</text>
<text x="401.5" y="355.8" font-size="11" text-anchor="start" fill="#000" color="#000" >SP CD4</text>
<text x="295.75" y="478.5" font-size="8.6" text-anchor="middle" fill="#000" color="#000" >10</text>
<text x="323.25" y="478.5" font-size="8.6" text-anchor="middle" fill="#000" color="#000" >500</text>
<text x="352.5" y="478.5" font-size="8.6" text-anchor="middle" fill="#000" color="#000" >1000</text>
<text x="396.7" y="478.5" font-size="8.6" text-anchor="middle" fill="#000" color="#000" >10</text>
<text x="424.4" y="478.5" font-size="8.6" text-anchor="middle" fill="#000" color="#000" >100</text>
<text x="452.2" y="478.5" font-size="8.6" text-anchor="middle" fill="#000" color="#000" >1000</text>
<text x="466.5" y="478.5" font-size="8.4" text-anchor="start" fill="#000" color="#000" >(nM)</text>
<line x1="289.5" y1="481.5" x2="302.5" y2="481.5" stroke="#000" stroke-width="1.4"/>
<line x1="316.25" y1="481.5" x2="330" y2="481.5" stroke="#000" stroke-width="1.4"/>
<line x1="344.25" y1="481.5" x2="359.25" y2="481.5" stroke="#000" stroke-width="1.4"/>
<line x1="390" y1="481.5" x2="403.5" y2="481.5" stroke="#000" stroke-width="1.4"/>
<line x1="417.5" y1="481.5" x2="431.5" y2="481.5" stroke="#000" stroke-width="1.4"/>
<line x1="445" y1="481.5" x2="460" y2="481.5" stroke="#000" stroke-width="1.4"/>
<text transform="translate(301 489) rotate(-50)" font-size="11.2" text-anchor="end">+ Cxcl12</text>
<text transform="translate(329 489) rotate(-50)" font-size="11.2" text-anchor="end">+ Ccl25</text>
<text transform="translate(356.5 489.8) rotate(-51)" font-size="11.2" text-anchor="end">+ AMD3100</text>
<text transform="translate(402 489) rotate(-50)" font-size="11.2" text-anchor="end">+ Cxcl12</text>
<text transform="translate(432 490) rotate(-50)" font-size="11.2" text-anchor="end">+ Ccl21</text>
<text transform="translate(456.2 489.5) rotate(-52)" font-size="11.2" text-anchor="end">+ AMD3100</text>
<text transform="translate(247 413) rotate(-90)" font-size="10.7" text-anchor="middle">% of input</text>
<text transform="translate(258.5 413) rotate(-90)" font-size="10.6" text-anchor="middle">thymocyte subsets</text>
<rect x="471.5" y="358.8" width="40.3" height="23.5" fill="#fff" stroke="#333" stroke-width="1"/>
<rect x="475.3" y="362.6" width="5.6" height="5.6" fill="#fff" stroke="#222" stroke-width="1"/>
<rect x="474.8" y="371.9" width="6.4" height="5.8" fill="#000"/>
<text x="484.5" y="368.7" font-size="8" text-anchor="start" fill="#000" color="#000" >WT</text>
<text x="484.3" y="378.5" font-size="8" text-anchor="start" fill="#000" color="#000" >+/1013</text>
<text x="77.65" y="371.59" font-size="14.8" text-anchor="middle" fill="#000" color="#000" >*</text>
<text x="173.35" y="382.94" font-size="14.8" text-anchor="middle" fill="#000" color="#000" >**</text>
<text x="300" y="423.84" font-size="14.8" text-anchor="middle" fill="#000" color="#000" >**</text>
<text x="402" y="379.39" font-size="14.8" text-anchor="middle" fill="#000" color="#000" >**</text>
<text x="137.5" y="548.2" font-size="24" text-anchor="start" fill="#000" color="#000" style="stroke-width:0">C</text>
<rect x="199.2" y="551.7" width="140.5" height="117.09999999999991" fill="none" stroke="#333" stroke-width="1.5"/>
<line x1="196.2" y1="668.8" x2="199.2" y2="668.8" stroke="#222" stroke-width="1"/>
<text x="194.3" y="671.8599999999999" font-size="8.5" text-anchor="end" fill="#000" color="#000" >0</text>
<line x1="196.2" y1="645.4" x2="199.2" y2="645.4" stroke="#222" stroke-width="1"/>
<text x="194.3" y="648.4599999999999" font-size="8.5" text-anchor="end" fill="#000" color="#000" >20</text>
<line x1="196.2" y1="622.0" x2="199.2" y2="622.0" stroke="#222" stroke-width="1"/>
<text x="194.3" y="625.06" font-size="8.5" text-anchor="end" fill="#000" color="#000" >40</text>
<line x1="196.2" y1="598.6" x2="199.2" y2="598.6" stroke="#222" stroke-width="1"/>
<text x="194.3" y="601.6599999999999" font-size="8.5" text-anchor="end" fill="#000" color="#000" >60</text>
<line x1="196.2" y1="575.2" x2="199.2" y2="575.2" stroke="#222" stroke-width="1"/>
<text x="194.3" y="578.2599999999999" font-size="8.5" text-anchor="end" fill="#000" color="#000" >80</text>
<line x1="196.2" y1="551.8" x2="199.2" y2="551.8" stroke="#222" stroke-width="1"/>
<text x="194.3" y="554.8599999999999" font-size="8.5" text-anchor="end" fill="#000" color="#000" >100</text>
<line x1="197.39999999999998" y1="657.1" x2="199.2" y2="657.1" stroke="#222" stroke-width="1"/>
<line x1="197.39999999999998" y1="633.7" x2="199.2" y2="633.7" stroke="#222" stroke-width="1"/>
<line x1="197.39999999999998" y1="610.3" x2="199.2" y2="610.3" stroke="#222" stroke-width="1"/>
<line x1="197.39999999999998" y1="586.9" x2="199.2" y2="586.9" stroke="#222" stroke-width="1"/>
<line x1="197.39999999999998" y1="563.5" x2="199.2" y2="563.5" stroke="#222" stroke-width="1"/>
<line x1="210.8" y1="617.7" x2="210.8" y2="632.7" stroke="#111" stroke-width="1.2"/>
<line x1="206.7" y1="617.7" x2="215.0" y2="617.7" stroke="#111" stroke-width="1.2"/>
<rect x="203.3" y="632.7" width="15.1" height="36.1" fill="#fff" stroke="#111" stroke-width="1.2"/>
<line x1="234.5" y1="557.9" x2="234.5" y2="569.1" stroke="#111" stroke-width="1.2"/>
<line x1="230.3" y1="557.9" x2="238.7" y2="557.9" stroke="#111" stroke-width="1.2"/>
<rect x="226.3" y="569.1" width="16.4" height="99.7" fill="#000"/>
<line x1="258.3" y1="639.3" x2="258.3" y2="650.3" stroke="#111" stroke-width="1.2"/>
<line x1="254.1" y1="639.3" x2="262.5" y2="639.3" stroke="#111" stroke-width="1.2"/>
<rect x="250.8" y="650.3" width="15.1" height="18.5" fill="#fff" stroke="#111" stroke-width="1.2"/>
<line x1="282.1" y1="569.5" x2="282.1" y2="581.1" stroke="#111" stroke-width="1.2"/>
<line x1="277.9" y1="569.5" x2="286.3" y2="569.5" stroke="#111" stroke-width="1.2"/>
<rect x="273.9" y="581.1" width="16.4" height="87.7" fill="#000"/>
<line x1="305.3" y1="614.5" x2="305.3" y2="621.5" stroke="#111" stroke-width="1.2"/>
<line x1="301.1" y1="614.5" x2="309.5" y2="614.5" stroke="#111" stroke-width="1.2"/>
<rect x="297.8" y="621.5" width="15.1" height="47.3" fill="#fff" stroke="#111" stroke-width="1.2"/>
<line x1="328.5" y1="610.4" x2="328.5" y2="619.6" stroke="#111" stroke-width="1.2"/>
<line x1="324.3" y1="610.4" x2="332.7" y2="610.4" stroke="#111" stroke-width="1.2"/>
<rect x="320.3" y="619.6" width="16.4" height="49.2" fill="#000"/>
<rect x="304.1" y="555.6" width="5.4" height="5.4" fill="#fff" stroke="#222" stroke-width="1.1"/>
<rect x="303.5" y="564.8" width="6.3" height="5.9" fill="#000"/>
<text x="233.8" y="562.34" font-size="14.8" text-anchor="middle" fill="#000" color="#000" >*</text>
<text x="281" y="572.39" font-size="14.8" text-anchor="middle" fill="#000" color="#000" >*</text>
<text x="312.6" y="561.2" font-size="8.3" text-anchor="start" fill="#000" color="#000" >WT</text>
<text x="312.4" y="571.1" font-size="8.3" text-anchor="start" fill="#000" color="#000" >+/1013</text>
<text x="222" y="679.5" font-size="8.5" text-anchor="middle" fill="#000" color="#000" >10</text>
<text x="269.7" y="679.5" font-size="8.5" text-anchor="middle" fill="#000" color="#000" >100</text>
<text x="317.3" y="679.5" font-size="8.5" text-anchor="middle" fill="#000" color="#000" >250</text>
<text x="340.8" y="679.8" font-size="8.5" text-anchor="start" fill="#000" color="#000" >(nM)</text>
<line x1="203" y1="683.1" x2="289.8" y2="683.1" stroke="#000" stroke-width="1.4"/>
<line x1="296.5" y1="683.1" x2="339.5" y2="683.1" stroke="#000" stroke-width="1.4"/>
<text x="221.2" y="697.8" font-size="12" text-anchor="start" fill="#000" color="#000" >+ Cxcl12</text>
<text x="297.5" y="697.9" font-size="12" text-anchor="start" fill="#000" color="#000" >+ Ccl25</text>
<text transform="translate(165 608.6) rotate(-90)" font-size="11.3" text-anchor="middle">Receptor expression</text>
<text transform="translate(177 609) rotate(-90)" font-size="11.3" text-anchor="middle">(%)</text>
</svg>
</body></html>
